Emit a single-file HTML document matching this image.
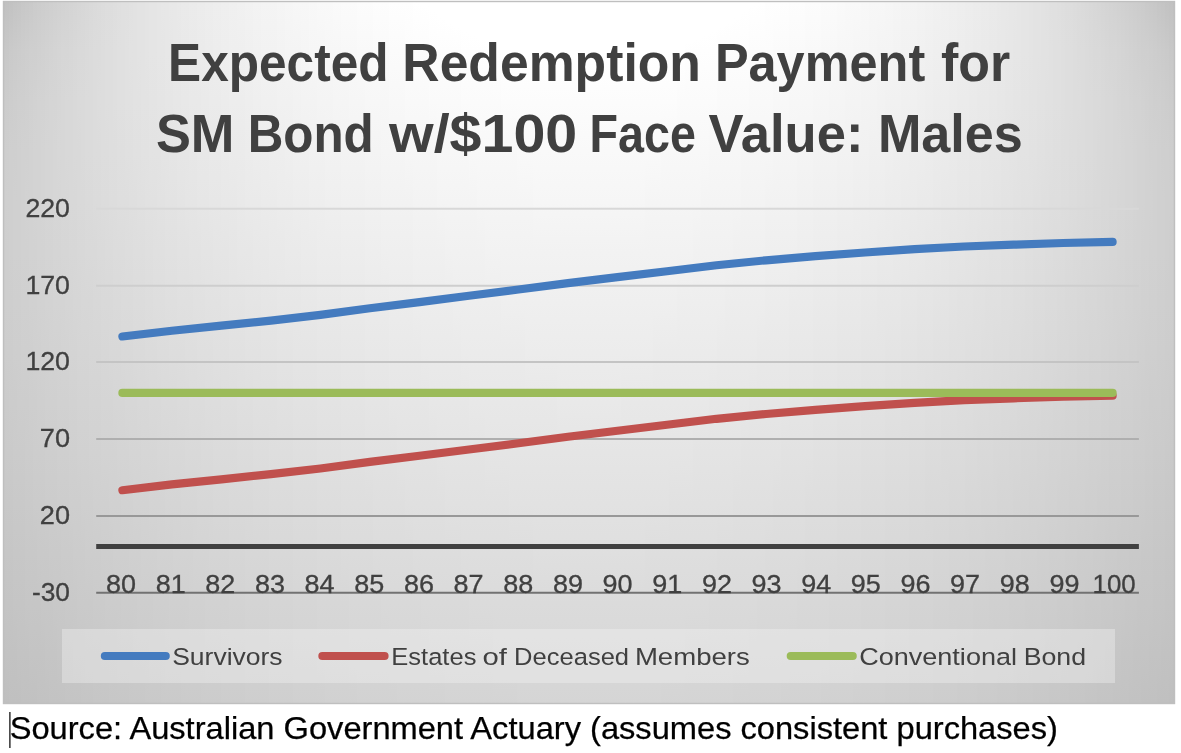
<!DOCTYPE html>
<html><head><meta charset="utf-8"><title>Expected Redemption Payment</title>
<style>
html,body{margin:0;padding:0;background:#fff;}
body{width:1181px;height:753px;overflow:hidden;font-family:"Liberation Sans",sans-serif;}
svg{display:block;will-change:transform;}
text{font-family:"Liberation Sans",sans-serif;}
</style></head><body>
<svg width="1181" height="753" viewBox="0 0 1181 753">
<rect x="0" y="0" width="1181" height="753" fill="#ffffff"/>
<defs>
<linearGradient id="g0" gradientUnits="userSpaceOnUse" x1="0" y1="1.0" x2="0" y2="704.0"><stop offset="0.0000" stop-color="#ffffff"/><stop offset="0.0714" stop-color="#ffffff"/><stop offset="0.0860" stop-color="#ffffff"/><stop offset="0.1429" stop-color="#fcfcfc"/><stop offset="0.2143" stop-color="#f9f9f9"/><stop offset="0.2857" stop-color="#f6f6f6"/><stop offset="0.3571" stop-color="#f2f2f2"/><stop offset="0.4286" stop-color="#efefef"/><stop offset="0.5000" stop-color="#ececec"/><stop offset="0.5714" stop-color="#e9e9e9"/><stop offset="0.6429" stop-color="#e5e5e5"/><stop offset="0.7143" stop-color="#e2e2e2"/><stop offset="0.7857" stop-color="#dfdfdf"/><stop offset="0.8571" stop-color="#dbdbdb"/><stop offset="0.9286" stop-color="#d8d8d8"/><stop offset="1.0000" stop-color="#d5d5d5"/></linearGradient>
<linearGradient id="g1" gradientUnits="userSpaceOnUse" x1="0" y1="1.0" x2="0" y2="704.0"><stop offset="0.0000" stop-color="#ffffff"/><stop offset="0.0714" stop-color="#ffffff"/><stop offset="0.0857" stop-color="#ffffff"/><stop offset="0.1429" stop-color="#fcfcfc"/><stop offset="0.2143" stop-color="#f9f9f9"/><stop offset="0.2857" stop-color="#f6f6f6"/><stop offset="0.3571" stop-color="#f2f2f2"/><stop offset="0.4286" stop-color="#efefef"/><stop offset="0.5000" stop-color="#ececec"/><stop offset="0.5714" stop-color="#e9e9e9"/><stop offset="0.6429" stop-color="#e5e5e5"/><stop offset="0.7143" stop-color="#e2e2e2"/><stop offset="0.7857" stop-color="#dfdfdf"/><stop offset="0.8571" stop-color="#dbdbdb"/><stop offset="0.9286" stop-color="#d8d8d8"/><stop offset="1.0000" stop-color="#d5d5d5"/></linearGradient>
<linearGradient id="g2" gradientUnits="userSpaceOnUse" x1="0" y1="1.0" x2="0" y2="704.0"><stop offset="0.0000" stop-color="#ffffff"/><stop offset="0.0714" stop-color="#ffffff"/><stop offset="0.0850" stop-color="#ffffff"/><stop offset="0.1429" stop-color="#fcfcfc"/><stop offset="0.2143" stop-color="#f9f9f9"/><stop offset="0.2857" stop-color="#f6f6f6"/><stop offset="0.3571" stop-color="#f2f2f2"/><stop offset="0.4286" stop-color="#efefef"/><stop offset="0.5000" stop-color="#ececec"/><stop offset="0.5714" stop-color="#e9e9e9"/><stop offset="0.6429" stop-color="#e5e5e5"/><stop offset="0.7143" stop-color="#e2e2e2"/><stop offset="0.7857" stop-color="#dfdfdf"/><stop offset="0.8571" stop-color="#dbdbdb"/><stop offset="0.9286" stop-color="#d8d8d8"/><stop offset="1.0000" stop-color="#d5d5d5"/></linearGradient>
<linearGradient id="g3" gradientUnits="userSpaceOnUse" x1="0" y1="1.0" x2="0" y2="704.0"><stop offset="0.0000" stop-color="#ffffff"/><stop offset="0.0714" stop-color="#ffffff"/><stop offset="0.0840" stop-color="#ffffff"/><stop offset="0.1429" stop-color="#fcfcfc"/><stop offset="0.2143" stop-color="#f9f9f9"/><stop offset="0.2857" stop-color="#f6f6f6"/><stop offset="0.3571" stop-color="#f2f2f2"/><stop offset="0.4286" stop-color="#efefef"/><stop offset="0.5000" stop-color="#ececec"/><stop offset="0.5714" stop-color="#e9e9e9"/><stop offset="0.6429" stop-color="#e5e5e5"/><stop offset="0.7143" stop-color="#e2e2e2"/><stop offset="0.7857" stop-color="#dfdfdf"/><stop offset="0.8571" stop-color="#dbdbdb"/><stop offset="0.9286" stop-color="#d8d8d8"/><stop offset="1.0000" stop-color="#d5d5d5"/></linearGradient>
<linearGradient id="g4" gradientUnits="userSpaceOnUse" x1="0" y1="1.0" x2="0" y2="704.0"><stop offset="0.0000" stop-color="#ffffff"/><stop offset="0.0714" stop-color="#ffffff"/><stop offset="0.0826" stop-color="#ffffff"/><stop offset="0.1429" stop-color="#fcfcfc"/><stop offset="0.2143" stop-color="#f9f9f9"/><stop offset="0.2857" stop-color="#f6f6f6"/><stop offset="0.3571" stop-color="#f2f2f2"/><stop offset="0.4286" stop-color="#efefef"/><stop offset="0.5000" stop-color="#ececec"/><stop offset="0.5714" stop-color="#e8e8e8"/><stop offset="0.6429" stop-color="#e5e5e5"/><stop offset="0.7143" stop-color="#e2e2e2"/><stop offset="0.7857" stop-color="#dfdfdf"/><stop offset="0.8571" stop-color="#dbdbdb"/><stop offset="0.9286" stop-color="#d8d8d8"/><stop offset="1.0000" stop-color="#d5d5d5"/></linearGradient>
<linearGradient id="g5" gradientUnits="userSpaceOnUse" x1="0" y1="1.0" x2="0" y2="704.0"><stop offset="0.0000" stop-color="#ffffff"/><stop offset="0.0714" stop-color="#ffffff"/><stop offset="0.0809" stop-color="#ffffff"/><stop offset="0.1429" stop-color="#fcfcfc"/><stop offset="0.2143" stop-color="#f9f9f9"/><stop offset="0.2857" stop-color="#f6f6f6"/><stop offset="0.3571" stop-color="#f2f2f2"/><stop offset="0.4286" stop-color="#efefef"/><stop offset="0.5000" stop-color="#ececec"/><stop offset="0.5714" stop-color="#e8e8e8"/><stop offset="0.6429" stop-color="#e5e5e5"/><stop offset="0.7143" stop-color="#e2e2e2"/><stop offset="0.7857" stop-color="#dfdfdf"/><stop offset="0.8571" stop-color="#dbdbdb"/><stop offset="0.9286" stop-color="#d8d8d8"/><stop offset="1.0000" stop-color="#d5d5d5"/></linearGradient>
<linearGradient id="g6" gradientUnits="userSpaceOnUse" x1="0" y1="1.0" x2="0" y2="704.0"><stop offset="0.0000" stop-color="#ffffff"/><stop offset="0.0714" stop-color="#ffffff"/><stop offset="0.0788" stop-color="#ffffff"/><stop offset="0.1429" stop-color="#fcfcfc"/><stop offset="0.2143" stop-color="#f9f9f9"/><stop offset="0.2857" stop-color="#f6f6f6"/><stop offset="0.3571" stop-color="#f2f2f2"/><stop offset="0.4286" stop-color="#efefef"/><stop offset="0.5000" stop-color="#ececec"/><stop offset="0.5714" stop-color="#e8e8e8"/><stop offset="0.6429" stop-color="#e5e5e5"/><stop offset="0.7143" stop-color="#e2e2e2"/><stop offset="0.7857" stop-color="#dfdfdf"/><stop offset="0.8571" stop-color="#dbdbdb"/><stop offset="0.9286" stop-color="#d8d8d8"/><stop offset="1.0000" stop-color="#d5d5d5"/></linearGradient>
<linearGradient id="g7" gradientUnits="userSpaceOnUse" x1="0" y1="1.0" x2="0" y2="704.0"><stop offset="0.0000" stop-color="#ffffff"/><stop offset="0.0714" stop-color="#ffffff"/><stop offset="0.0764" stop-color="#ffffff"/><stop offset="0.1429" stop-color="#fcfcfc"/><stop offset="0.2143" stop-color="#f9f9f9"/><stop offset="0.2857" stop-color="#f5f5f5"/><stop offset="0.3571" stop-color="#f2f2f2"/><stop offset="0.4286" stop-color="#efefef"/><stop offset="0.5000" stop-color="#ececec"/><stop offset="0.5714" stop-color="#e8e8e8"/><stop offset="0.6429" stop-color="#e5e5e5"/><stop offset="0.7143" stop-color="#e2e2e2"/><stop offset="0.7857" stop-color="#dedede"/><stop offset="0.8571" stop-color="#dbdbdb"/><stop offset="0.9286" stop-color="#d8d8d8"/><stop offset="1.0000" stop-color="#d5d5d5"/></linearGradient>
<linearGradient id="g8" gradientUnits="userSpaceOnUse" x1="0" y1="1.0" x2="0" y2="704.0"><stop offset="0.0000" stop-color="#ffffff"/><stop offset="0.0714" stop-color="#ffffff"/><stop offset="0.0735" stop-color="#ffffff"/><stop offset="0.1429" stop-color="#fcfcfc"/><stop offset="0.2143" stop-color="#f9f9f9"/><stop offset="0.2857" stop-color="#f5f5f5"/><stop offset="0.3571" stop-color="#f2f2f2"/><stop offset="0.4286" stop-color="#efefef"/><stop offset="0.5000" stop-color="#ebebeb"/><stop offset="0.5714" stop-color="#e8e8e8"/><stop offset="0.6429" stop-color="#e5e5e5"/><stop offset="0.7143" stop-color="#e2e2e2"/><stop offset="0.7857" stop-color="#dedede"/><stop offset="0.8571" stop-color="#dbdbdb"/><stop offset="0.9286" stop-color="#d8d8d8"/><stop offset="1.0000" stop-color="#d5d5d5"/></linearGradient>
<linearGradient id="g9" gradientUnits="userSpaceOnUse" x1="0" y1="1.0" x2="0" y2="704.0"><stop offset="0.0000" stop-color="#ffffff"/><stop offset="0.0703" stop-color="#ffffff"/><stop offset="0.0714" stop-color="#ffffff"/><stop offset="0.1429" stop-color="#fcfcfc"/><stop offset="0.2143" stop-color="#f8f8f8"/><stop offset="0.2857" stop-color="#f5f5f5"/><stop offset="0.3571" stop-color="#f2f2f2"/><stop offset="0.4286" stop-color="#efefef"/><stop offset="0.5000" stop-color="#ebebeb"/><stop offset="0.5714" stop-color="#e8e8e8"/><stop offset="0.6429" stop-color="#e5e5e5"/><stop offset="0.7143" stop-color="#e2e2e2"/><stop offset="0.7857" stop-color="#dedede"/><stop offset="0.8571" stop-color="#dbdbdb"/><stop offset="0.9286" stop-color="#d8d8d8"/><stop offset="1.0000" stop-color="#d4d4d4"/></linearGradient>
<linearGradient id="g10" gradientUnits="userSpaceOnUse" x1="0" y1="1.0" x2="0" y2="704.0"><stop offset="0.0000" stop-color="#ffffff"/><stop offset="0.0668" stop-color="#ffffff"/><stop offset="0.0714" stop-color="#ffffff"/><stop offset="0.1429" stop-color="#fcfcfc"/><stop offset="0.2143" stop-color="#f8f8f8"/><stop offset="0.2857" stop-color="#f5f5f5"/><stop offset="0.3571" stop-color="#f2f2f2"/><stop offset="0.4286" stop-color="#efefef"/><stop offset="0.5000" stop-color="#ebebeb"/><stop offset="0.5714" stop-color="#e8e8e8"/><stop offset="0.6429" stop-color="#e5e5e5"/><stop offset="0.7143" stop-color="#e1e1e1"/><stop offset="0.7857" stop-color="#dedede"/><stop offset="0.8571" stop-color="#dbdbdb"/><stop offset="0.9286" stop-color="#d8d8d8"/><stop offset="1.0000" stop-color="#d4d4d4"/></linearGradient>
<linearGradient id="g11" gradientUnits="userSpaceOnUse" x1="0" y1="1.0" x2="0" y2="704.0"><stop offset="0.0000" stop-color="#ffffff"/><stop offset="0.0628" stop-color="#ffffff"/><stop offset="0.0714" stop-color="#ffffff"/><stop offset="0.1429" stop-color="#fbfbfb"/><stop offset="0.2143" stop-color="#f8f8f8"/><stop offset="0.2857" stop-color="#f5f5f5"/><stop offset="0.3571" stop-color="#f2f2f2"/><stop offset="0.4286" stop-color="#eeeeee"/><stop offset="0.5000" stop-color="#ebebeb"/><stop offset="0.5714" stop-color="#e8e8e8"/><stop offset="0.6429" stop-color="#e5e5e5"/><stop offset="0.7143" stop-color="#e1e1e1"/><stop offset="0.7857" stop-color="#dedede"/><stop offset="0.8571" stop-color="#dbdbdb"/><stop offset="0.9286" stop-color="#d8d8d8"/><stop offset="1.0000" stop-color="#d4d4d4"/></linearGradient>
<linearGradient id="g12" gradientUnits="userSpaceOnUse" x1="0" y1="1.0" x2="0" y2="704.0"><stop offset="0.0000" stop-color="#ffffff"/><stop offset="0.0584" stop-color="#ffffff"/><stop offset="0.0714" stop-color="#fefefe"/><stop offset="0.1429" stop-color="#fbfbfb"/><stop offset="0.2143" stop-color="#f8f8f8"/><stop offset="0.2857" stop-color="#f5f5f5"/><stop offset="0.3571" stop-color="#f2f2f2"/><stop offset="0.4286" stop-color="#eeeeee"/><stop offset="0.5000" stop-color="#ebebeb"/><stop offset="0.5714" stop-color="#e8e8e8"/><stop offset="0.6429" stop-color="#e5e5e5"/><stop offset="0.7143" stop-color="#e1e1e1"/><stop offset="0.7857" stop-color="#dedede"/><stop offset="0.8571" stop-color="#dbdbdb"/><stop offset="0.9286" stop-color="#d7d7d7"/><stop offset="1.0000" stop-color="#d4d4d4"/></linearGradient>
<linearGradient id="g13" gradientUnits="userSpaceOnUse" x1="0" y1="1.0" x2="0" y2="704.0"><stop offset="0.0000" stop-color="#ffffff"/><stop offset="0.0536" stop-color="#ffffff"/><stop offset="0.0714" stop-color="#fefefe"/><stop offset="0.1429" stop-color="#fbfbfb"/><stop offset="0.2143" stop-color="#f8f8f8"/><stop offset="0.2857" stop-color="#f5f5f5"/><stop offset="0.3571" stop-color="#f1f1f1"/><stop offset="0.4286" stop-color="#eeeeee"/><stop offset="0.5000" stop-color="#ebebeb"/><stop offset="0.5714" stop-color="#e8e8e8"/><stop offset="0.6429" stop-color="#e4e4e4"/><stop offset="0.7143" stop-color="#e1e1e1"/><stop offset="0.7857" stop-color="#dedede"/><stop offset="0.8571" stop-color="#dbdbdb"/><stop offset="0.9286" stop-color="#d7d7d7"/><stop offset="1.0000" stop-color="#d4d4d4"/></linearGradient>
<linearGradient id="g14" gradientUnits="userSpaceOnUse" x1="0" y1="1.0" x2="0" y2="704.0"><stop offset="0.0000" stop-color="#ffffff"/><stop offset="0.0483" stop-color="#ffffff"/><stop offset="0.0714" stop-color="#fefefe"/><stop offset="0.1429" stop-color="#fbfbfb"/><stop offset="0.2143" stop-color="#f8f8f8"/><stop offset="0.2857" stop-color="#f4f4f4"/><stop offset="0.3571" stop-color="#f1f1f1"/><stop offset="0.4286" stop-color="#eeeeee"/><stop offset="0.5000" stop-color="#ebebeb"/><stop offset="0.5714" stop-color="#e8e8e8"/><stop offset="0.6429" stop-color="#e4e4e4"/><stop offset="0.7143" stop-color="#e1e1e1"/><stop offset="0.7857" stop-color="#dedede"/><stop offset="0.8571" stop-color="#dbdbdb"/><stop offset="0.9286" stop-color="#d7d7d7"/><stop offset="1.0000" stop-color="#d4d4d4"/></linearGradient>
<linearGradient id="g15" gradientUnits="userSpaceOnUse" x1="0" y1="1.0" x2="0" y2="704.0"><stop offset="0.0000" stop-color="#ffffff"/><stop offset="0.0426" stop-color="#ffffff"/><stop offset="0.0714" stop-color="#fefefe"/><stop offset="0.1429" stop-color="#fbfbfb"/><stop offset="0.2143" stop-color="#f7f7f7"/><stop offset="0.2857" stop-color="#f4f4f4"/><stop offset="0.3571" stop-color="#f1f1f1"/><stop offset="0.4286" stop-color="#eeeeee"/><stop offset="0.5000" stop-color="#ebebeb"/><stop offset="0.5714" stop-color="#e7e7e7"/><stop offset="0.6429" stop-color="#e4e4e4"/><stop offset="0.7143" stop-color="#e1e1e1"/><stop offset="0.7857" stop-color="#dedede"/><stop offset="0.8571" stop-color="#dadada"/><stop offset="0.9286" stop-color="#d7d7d7"/><stop offset="1.0000" stop-color="#d4d4d4"/></linearGradient>
<linearGradient id="g16" gradientUnits="userSpaceOnUse" x1="0" y1="1.0" x2="0" y2="704.0"><stop offset="0.0000" stop-color="#ffffff"/><stop offset="0.0363" stop-color="#ffffff"/><stop offset="0.0714" stop-color="#fdfdfd"/><stop offset="0.1429" stop-color="#fafafa"/><stop offset="0.2143" stop-color="#f7f7f7"/><stop offset="0.2857" stop-color="#f4f4f4"/><stop offset="0.3571" stop-color="#f1f1f1"/><stop offset="0.4286" stop-color="#eeeeee"/><stop offset="0.5000" stop-color="#eaeaea"/><stop offset="0.5714" stop-color="#e7e7e7"/><stop offset="0.6429" stop-color="#e4e4e4"/><stop offset="0.7143" stop-color="#e1e1e1"/><stop offset="0.7857" stop-color="#dddddd"/><stop offset="0.8571" stop-color="#dadada"/><stop offset="0.9286" stop-color="#d7d7d7"/><stop offset="1.0000" stop-color="#d4d4d4"/></linearGradient>
<linearGradient id="g17" gradientUnits="userSpaceOnUse" x1="0" y1="1.0" x2="0" y2="704.0"><stop offset="0.0000" stop-color="#ffffff"/><stop offset="0.0296" stop-color="#ffffff"/><stop offset="0.0714" stop-color="#fdfdfd"/><stop offset="0.1429" stop-color="#fafafa"/><stop offset="0.2143" stop-color="#f7f7f7"/><stop offset="0.2857" stop-color="#f4f4f4"/><stop offset="0.3571" stop-color="#f1f1f1"/><stop offset="0.4286" stop-color="#ededed"/><stop offset="0.5000" stop-color="#eaeaea"/><stop offset="0.5714" stop-color="#e7e7e7"/><stop offset="0.6429" stop-color="#e4e4e4"/><stop offset="0.7143" stop-color="#e1e1e1"/><stop offset="0.7857" stop-color="#dddddd"/><stop offset="0.8571" stop-color="#dadada"/><stop offset="0.9286" stop-color="#d7d7d7"/><stop offset="1.0000" stop-color="#d4d4d4"/></linearGradient>
<linearGradient id="g18" gradientUnits="userSpaceOnUse" x1="0" y1="1.0" x2="0" y2="704.0"><stop offset="0.0000" stop-color="#ffffff"/><stop offset="0.0223" stop-color="#ffffff"/><stop offset="0.0714" stop-color="#fdfdfd"/><stop offset="0.1429" stop-color="#fafafa"/><stop offset="0.2143" stop-color="#f7f7f7"/><stop offset="0.2857" stop-color="#f4f4f4"/><stop offset="0.3571" stop-color="#f0f0f0"/><stop offset="0.4286" stop-color="#ededed"/><stop offset="0.5000" stop-color="#eaeaea"/><stop offset="0.5714" stop-color="#e7e7e7"/><stop offset="0.6429" stop-color="#e4e4e4"/><stop offset="0.7143" stop-color="#e0e0e0"/><stop offset="0.7857" stop-color="#dddddd"/><stop offset="0.8571" stop-color="#dadada"/><stop offset="0.9286" stop-color="#d7d7d7"/><stop offset="1.0000" stop-color="#d3d3d3"/></linearGradient>
<linearGradient id="g19" gradientUnits="userSpaceOnUse" x1="0" y1="1.0" x2="0" y2="704.0"><stop offset="0.0000" stop-color="#ffffff"/><stop offset="0.0144" stop-color="#ffffff"/><stop offset="0.0714" stop-color="#fdfdfd"/><stop offset="0.1429" stop-color="#fafafa"/><stop offset="0.2143" stop-color="#f6f6f6"/><stop offset="0.2857" stop-color="#f3f3f3"/><stop offset="0.3571" stop-color="#f0f0f0"/><stop offset="0.4286" stop-color="#ededed"/><stop offset="0.5000" stop-color="#eaeaea"/><stop offset="0.5714" stop-color="#e7e7e7"/><stop offset="0.6429" stop-color="#e3e3e3"/><stop offset="0.7143" stop-color="#e0e0e0"/><stop offset="0.7857" stop-color="#dddddd"/><stop offset="0.8571" stop-color="#dadada"/><stop offset="0.9286" stop-color="#d7d7d7"/><stop offset="1.0000" stop-color="#d3d3d3"/></linearGradient>
<linearGradient id="g20" gradientUnits="userSpaceOnUse" x1="0" y1="1.0" x2="0" y2="704.0"><stop offset="0.0000" stop-color="#ffffff"/><stop offset="0.0058" stop-color="#ffffff"/><stop offset="0.0714" stop-color="#fcfcfc"/><stop offset="0.1429" stop-color="#f9f9f9"/><stop offset="0.2143" stop-color="#f6f6f6"/><stop offset="0.2857" stop-color="#f3f3f3"/><stop offset="0.3571" stop-color="#f0f0f0"/><stop offset="0.4286" stop-color="#ededed"/><stop offset="0.5000" stop-color="#eaeaea"/><stop offset="0.5714" stop-color="#e6e6e6"/><stop offset="0.6429" stop-color="#e3e3e3"/><stop offset="0.7143" stop-color="#e0e0e0"/><stop offset="0.7857" stop-color="#dddddd"/><stop offset="0.8571" stop-color="#dadada"/><stop offset="0.9286" stop-color="#d6d6d6"/><stop offset="1.0000" stop-color="#d3d3d3"/></linearGradient>
<linearGradient id="g21" gradientUnits="userSpaceOnUse" x1="0" y1="1.0" x2="0" y2="704.0"><stop offset="0.0000" stop-color="#ffffff"/><stop offset="0.0714" stop-color="#fcfcfc"/><stop offset="0.1429" stop-color="#f9f9f9"/><stop offset="0.2143" stop-color="#f6f6f6"/><stop offset="0.2857" stop-color="#f3f3f3"/><stop offset="0.3571" stop-color="#f0f0f0"/><stop offset="0.4286" stop-color="#ededed"/><stop offset="0.5000" stop-color="#e9e9e9"/><stop offset="0.5714" stop-color="#e6e6e6"/><stop offset="0.6429" stop-color="#e3e3e3"/><stop offset="0.7143" stop-color="#e0e0e0"/><stop offset="0.7857" stop-color="#dddddd"/><stop offset="0.8571" stop-color="#d9d9d9"/><stop offset="0.9286" stop-color="#d6d6d6"/><stop offset="1.0000" stop-color="#d3d3d3"/></linearGradient>
<linearGradient id="g22" gradientUnits="userSpaceOnUse" x1="0" y1="1.0" x2="0" y2="704.0"><stop offset="0.0000" stop-color="#fefefe"/><stop offset="0.0714" stop-color="#fcfcfc"/><stop offset="0.1429" stop-color="#f9f9f9"/><stop offset="0.2143" stop-color="#f6f6f6"/><stop offset="0.2857" stop-color="#f2f2f2"/><stop offset="0.3571" stop-color="#efefef"/><stop offset="0.4286" stop-color="#ececec"/><stop offset="0.5000" stop-color="#e9e9e9"/><stop offset="0.5714" stop-color="#e6e6e6"/><stop offset="0.6429" stop-color="#e3e3e3"/><stop offset="0.7143" stop-color="#e0e0e0"/><stop offset="0.7857" stop-color="#dcdcdc"/><stop offset="0.8571" stop-color="#d9d9d9"/><stop offset="0.9286" stop-color="#d6d6d6"/><stop offset="1.0000" stop-color="#d3d3d3"/></linearGradient>
<linearGradient id="g23" gradientUnits="userSpaceOnUse" x1="0" y1="1.0" x2="0" y2="704.0"><stop offset="0.0000" stop-color="#fefefe"/><stop offset="0.0714" stop-color="#fbfbfb"/><stop offset="0.1429" stop-color="#f8f8f8"/><stop offset="0.2143" stop-color="#f5f5f5"/><stop offset="0.2857" stop-color="#f2f2f2"/><stop offset="0.3571" stop-color="#efefef"/><stop offset="0.4286" stop-color="#ececec"/><stop offset="0.5000" stop-color="#e9e9e9"/><stop offset="0.5714" stop-color="#e6e6e6"/><stop offset="0.6429" stop-color="#e3e3e3"/><stop offset="0.7143" stop-color="#dfdfdf"/><stop offset="0.7857" stop-color="#dcdcdc"/><stop offset="0.8571" stop-color="#d9d9d9"/><stop offset="0.9286" stop-color="#d6d6d6"/><stop offset="1.0000" stop-color="#d3d3d3"/></linearGradient>
<linearGradient id="g24" gradientUnits="userSpaceOnUse" x1="0" y1="1.0" x2="0" y2="704.0"><stop offset="0.0000" stop-color="#fefefe"/><stop offset="0.0714" stop-color="#fbfbfb"/><stop offset="0.1429" stop-color="#f8f8f8"/><stop offset="0.2143" stop-color="#f5f5f5"/><stop offset="0.2857" stop-color="#f2f2f2"/><stop offset="0.3571" stop-color="#efefef"/><stop offset="0.4286" stop-color="#ececec"/><stop offset="0.5000" stop-color="#e9e9e9"/><stop offset="0.5714" stop-color="#e6e6e6"/><stop offset="0.6429" stop-color="#e2e2e2"/><stop offset="0.7143" stop-color="#dfdfdf"/><stop offset="0.7857" stop-color="#dcdcdc"/><stop offset="0.8571" stop-color="#d9d9d9"/><stop offset="0.9286" stop-color="#d6d6d6"/><stop offset="1.0000" stop-color="#d2d2d2"/></linearGradient>
<linearGradient id="g25" gradientUnits="userSpaceOnUse" x1="0" y1="1.0" x2="0" y2="704.0"><stop offset="0.0000" stop-color="#fdfdfd"/><stop offset="0.0714" stop-color="#fafafa"/><stop offset="0.1429" stop-color="#f7f7f7"/><stop offset="0.2143" stop-color="#f5f5f5"/><stop offset="0.2857" stop-color="#f2f2f2"/><stop offset="0.3571" stop-color="#efefef"/><stop offset="0.4286" stop-color="#ebebeb"/><stop offset="0.5000" stop-color="#e8e8e8"/><stop offset="0.5714" stop-color="#e5e5e5"/><stop offset="0.6429" stop-color="#e2e2e2"/><stop offset="0.7143" stop-color="#dfdfdf"/><stop offset="0.7857" stop-color="#dcdcdc"/><stop offset="0.8571" stop-color="#d9d9d9"/><stop offset="0.9286" stop-color="#d5d5d5"/><stop offset="1.0000" stop-color="#d2d2d2"/></linearGradient>
<linearGradient id="g26" gradientUnits="userSpaceOnUse" x1="0" y1="1.0" x2="0" y2="704.0"><stop offset="0.0000" stop-color="#fdfdfd"/><stop offset="0.0714" stop-color="#fafafa"/><stop offset="0.1429" stop-color="#f7f7f7"/><stop offset="0.2143" stop-color="#f4f4f4"/><stop offset="0.2857" stop-color="#f1f1f1"/><stop offset="0.3571" stop-color="#eeeeee"/><stop offset="0.4286" stop-color="#ebebeb"/><stop offset="0.5000" stop-color="#e8e8e8"/><stop offset="0.5714" stop-color="#e5e5e5"/><stop offset="0.6429" stop-color="#e2e2e2"/><stop offset="0.7143" stop-color="#dfdfdf"/><stop offset="0.7857" stop-color="#dcdcdc"/><stop offset="0.8571" stop-color="#d8d8d8"/><stop offset="0.9286" stop-color="#d5d5d5"/><stop offset="1.0000" stop-color="#d2d2d2"/></linearGradient>
<linearGradient id="g27" gradientUnits="userSpaceOnUse" x1="0" y1="1.0" x2="0" y2="704.0"><stop offset="0.0000" stop-color="#fcfcfc"/><stop offset="0.0714" stop-color="#f9f9f9"/><stop offset="0.1429" stop-color="#f7f7f7"/><stop offset="0.2143" stop-color="#f4f4f4"/><stop offset="0.2857" stop-color="#f1f1f1"/><stop offset="0.3571" stop-color="#eeeeee"/><stop offset="0.4286" stop-color="#ebebeb"/><stop offset="0.5000" stop-color="#e8e8e8"/><stop offset="0.5714" stop-color="#e5e5e5"/><stop offset="0.6429" stop-color="#e2e2e2"/><stop offset="0.7143" stop-color="#dedede"/><stop offset="0.7857" stop-color="#dbdbdb"/><stop offset="0.8571" stop-color="#d8d8d8"/><stop offset="0.9286" stop-color="#d5d5d5"/><stop offset="1.0000" stop-color="#d2d2d2"/></linearGradient>
<linearGradient id="g28" gradientUnits="userSpaceOnUse" x1="0" y1="1.0" x2="0" y2="704.0"><stop offset="0.0000" stop-color="#fcfcfc"/><stop offset="0.0714" stop-color="#f9f9f9"/><stop offset="0.1429" stop-color="#f6f6f6"/><stop offset="0.2143" stop-color="#f3f3f3"/><stop offset="0.2857" stop-color="#f0f0f0"/><stop offset="0.3571" stop-color="#ededed"/><stop offset="0.4286" stop-color="#eaeaea"/><stop offset="0.5000" stop-color="#e7e7e7"/><stop offset="0.5714" stop-color="#e4e4e4"/><stop offset="0.6429" stop-color="#e1e1e1"/><stop offset="0.7143" stop-color="#dedede"/><stop offset="0.7857" stop-color="#dbdbdb"/><stop offset="0.8571" stop-color="#d8d8d8"/><stop offset="0.9286" stop-color="#d5d5d5"/><stop offset="1.0000" stop-color="#d2d2d2"/></linearGradient>
<linearGradient id="g29" gradientUnits="userSpaceOnUse" x1="0" y1="1.0" x2="0" y2="704.0"><stop offset="0.0000" stop-color="#fbfbfb"/><stop offset="0.0714" stop-color="#f8f8f8"/><stop offset="0.1429" stop-color="#f6f6f6"/><stop offset="0.2143" stop-color="#f3f3f3"/><stop offset="0.2857" stop-color="#f0f0f0"/><stop offset="0.3571" stop-color="#ededed"/><stop offset="0.4286" stop-color="#eaeaea"/><stop offset="0.5000" stop-color="#e7e7e7"/><stop offset="0.5714" stop-color="#e4e4e4"/><stop offset="0.6429" stop-color="#e1e1e1"/><stop offset="0.7143" stop-color="#dedede"/><stop offset="0.7857" stop-color="#dbdbdb"/><stop offset="0.8571" stop-color="#d8d8d8"/><stop offset="0.9286" stop-color="#d5d5d5"/><stop offset="1.0000" stop-color="#d1d1d1"/></linearGradient>
<linearGradient id="g30" gradientUnits="userSpaceOnUse" x1="0" y1="1.0" x2="0" y2="704.0"><stop offset="0.0000" stop-color="#fbfbfb"/><stop offset="0.0714" stop-color="#f8f8f8"/><stop offset="0.1429" stop-color="#f5f5f5"/><stop offset="0.2143" stop-color="#f3f3f3"/><stop offset="0.2857" stop-color="#f0f0f0"/><stop offset="0.3571" stop-color="#ededed"/><stop offset="0.4286" stop-color="#eaeaea"/><stop offset="0.5000" stop-color="#e7e7e7"/><stop offset="0.5714" stop-color="#e4e4e4"/><stop offset="0.6429" stop-color="#e1e1e1"/><stop offset="0.7143" stop-color="#dedede"/><stop offset="0.7857" stop-color="#dbdbdb"/><stop offset="0.8571" stop-color="#d7d7d7"/><stop offset="0.9286" stop-color="#d4d4d4"/><stop offset="1.0000" stop-color="#d1d1d1"/></linearGradient>
<linearGradient id="g31" gradientUnits="userSpaceOnUse" x1="0" y1="1.0" x2="0" y2="704.0"><stop offset="0.0000" stop-color="#fafafa"/><stop offset="0.0714" stop-color="#f7f7f7"/><stop offset="0.1429" stop-color="#f5f5f5"/><stop offset="0.2143" stop-color="#f2f2f2"/><stop offset="0.2857" stop-color="#efefef"/><stop offset="0.3571" stop-color="#ececec"/><stop offset="0.4286" stop-color="#e9e9e9"/><stop offset="0.5000" stop-color="#e6e6e6"/><stop offset="0.5714" stop-color="#e3e3e3"/><stop offset="0.6429" stop-color="#e0e0e0"/><stop offset="0.7143" stop-color="#dddddd"/><stop offset="0.7857" stop-color="#dadada"/><stop offset="0.8571" stop-color="#d7d7d7"/><stop offset="0.9286" stop-color="#d4d4d4"/><stop offset="1.0000" stop-color="#d1d1d1"/></linearGradient>
<linearGradient id="g32" gradientUnits="userSpaceOnUse" x1="0" y1="1.0" x2="0" y2="704.0"><stop offset="0.0000" stop-color="#f9f9f9"/><stop offset="0.0714" stop-color="#f7f7f7"/><stop offset="0.1429" stop-color="#f4f4f4"/><stop offset="0.2143" stop-color="#f2f2f2"/><stop offset="0.2857" stop-color="#efefef"/><stop offset="0.3571" stop-color="#ececec"/><stop offset="0.4286" stop-color="#e9e9e9"/><stop offset="0.5000" stop-color="#e6e6e6"/><stop offset="0.5714" stop-color="#e3e3e3"/><stop offset="0.6429" stop-color="#e0e0e0"/><stop offset="0.7143" stop-color="#dddddd"/><stop offset="0.7857" stop-color="#dadada"/><stop offset="0.8571" stop-color="#d7d7d7"/><stop offset="0.9286" stop-color="#d4d4d4"/><stop offset="1.0000" stop-color="#d1d1d1"/></linearGradient>
<linearGradient id="g33" gradientUnits="userSpaceOnUse" x1="0" y1="1.0" x2="0" y2="704.0"><stop offset="0.0000" stop-color="#f9f9f9"/><stop offset="0.0714" stop-color="#f6f6f6"/><stop offset="0.1429" stop-color="#f4f4f4"/><stop offset="0.2143" stop-color="#f1f1f1"/><stop offset="0.2857" stop-color="#eeeeee"/><stop offset="0.3571" stop-color="#ececec"/><stop offset="0.4286" stop-color="#e9e9e9"/><stop offset="0.5000" stop-color="#e6e6e6"/><stop offset="0.5714" stop-color="#e3e3e3"/><stop offset="0.6429" stop-color="#e0e0e0"/><stop offset="0.7143" stop-color="#dddddd"/><stop offset="0.7857" stop-color="#dadada"/><stop offset="0.8571" stop-color="#d7d7d7"/><stop offset="0.9286" stop-color="#d4d4d4"/><stop offset="1.0000" stop-color="#d0d0d0"/></linearGradient>
<linearGradient id="g34" gradientUnits="userSpaceOnUse" x1="0" y1="1.0" x2="0" y2="704.0"><stop offset="0.0000" stop-color="#f8f8f8"/><stop offset="0.0714" stop-color="#f6f6f6"/><stop offset="0.1429" stop-color="#f3f3f3"/><stop offset="0.2143" stop-color="#f1f1f1"/><stop offset="0.2857" stop-color="#eeeeee"/><stop offset="0.3571" stop-color="#ebebeb"/><stop offset="0.4286" stop-color="#e8e8e8"/><stop offset="0.5000" stop-color="#e5e5e5"/><stop offset="0.5714" stop-color="#e2e2e2"/><stop offset="0.6429" stop-color="#dfdfdf"/><stop offset="0.7143" stop-color="#dcdcdc"/><stop offset="0.7857" stop-color="#d9d9d9"/><stop offset="0.8571" stop-color="#d6d6d6"/><stop offset="0.9286" stop-color="#d3d3d3"/><stop offset="1.0000" stop-color="#d0d0d0"/></linearGradient>
<linearGradient id="g35" gradientUnits="userSpaceOnUse" x1="0" y1="1.0" x2="0" y2="704.0"><stop offset="0.0000" stop-color="#f7f7f7"/><stop offset="0.0714" stop-color="#f5f5f5"/><stop offset="0.1429" stop-color="#f3f3f3"/><stop offset="0.2143" stop-color="#f0f0f0"/><stop offset="0.2857" stop-color="#ededed"/><stop offset="0.3571" stop-color="#ebebeb"/><stop offset="0.4286" stop-color="#e8e8e8"/><stop offset="0.5000" stop-color="#e5e5e5"/><stop offset="0.5714" stop-color="#e2e2e2"/><stop offset="0.6429" stop-color="#dfdfdf"/><stop offset="0.7143" stop-color="#dcdcdc"/><stop offset="0.7857" stop-color="#d9d9d9"/><stop offset="0.8571" stop-color="#d6d6d6"/><stop offset="0.9286" stop-color="#d3d3d3"/><stop offset="1.0000" stop-color="#d0d0d0"/></linearGradient>
<linearGradient id="g36" gradientUnits="userSpaceOnUse" x1="0" y1="1.0" x2="0" y2="704.0"><stop offset="0.0000" stop-color="#f7f7f7"/><stop offset="0.0714" stop-color="#f4f4f4"/><stop offset="0.1429" stop-color="#f2f2f2"/><stop offset="0.2143" stop-color="#f0f0f0"/><stop offset="0.2857" stop-color="#ededed"/><stop offset="0.3571" stop-color="#eaeaea"/><stop offset="0.4286" stop-color="#e7e7e7"/><stop offset="0.5000" stop-color="#e5e5e5"/><stop offset="0.5714" stop-color="#e2e2e2"/><stop offset="0.6429" stop-color="#dfdfdf"/><stop offset="0.7143" stop-color="#dcdcdc"/><stop offset="0.7857" stop-color="#d9d9d9"/><stop offset="0.8571" stop-color="#d6d6d6"/><stop offset="0.9286" stop-color="#d3d3d3"/><stop offset="1.0000" stop-color="#d0d0d0"/></linearGradient>
<linearGradient id="g37" gradientUnits="userSpaceOnUse" x1="0" y1="1.0" x2="0" y2="704.0"><stop offset="0.0000" stop-color="#f6f6f6"/><stop offset="0.0714" stop-color="#f4f4f4"/><stop offset="0.1429" stop-color="#f1f1f1"/><stop offset="0.2143" stop-color="#efefef"/><stop offset="0.2857" stop-color="#ececec"/><stop offset="0.3571" stop-color="#eaeaea"/><stop offset="0.4286" stop-color="#e7e7e7"/><stop offset="0.5000" stop-color="#e4e4e4"/><stop offset="0.5714" stop-color="#e1e1e1"/><stop offset="0.6429" stop-color="#dedede"/><stop offset="0.7143" stop-color="#dbdbdb"/><stop offset="0.7857" stop-color="#d8d8d8"/><stop offset="0.8571" stop-color="#d5d5d5"/><stop offset="0.9286" stop-color="#d2d2d2"/><stop offset="1.0000" stop-color="#cfcfcf"/></linearGradient>
<linearGradient id="g38" gradientUnits="userSpaceOnUse" x1="0" y1="1.0" x2="0" y2="704.0"><stop offset="0.0000" stop-color="#f5f5f5"/><stop offset="0.0714" stop-color="#f3f3f3"/><stop offset="0.1429" stop-color="#f1f1f1"/><stop offset="0.2143" stop-color="#eeeeee"/><stop offset="0.2857" stop-color="#ececec"/><stop offset="0.3571" stop-color="#e9e9e9"/><stop offset="0.4286" stop-color="#e7e7e7"/><stop offset="0.5000" stop-color="#e4e4e4"/><stop offset="0.5714" stop-color="#e1e1e1"/><stop offset="0.6429" stop-color="#dedede"/><stop offset="0.7143" stop-color="#dbdbdb"/><stop offset="0.7857" stop-color="#d8d8d8"/><stop offset="0.8571" stop-color="#d5d5d5"/><stop offset="0.9286" stop-color="#d2d2d2"/><stop offset="1.0000" stop-color="#cfcfcf"/></linearGradient>
<linearGradient id="g39" gradientUnits="userSpaceOnUse" x1="0" y1="1.0" x2="0" y2="704.0"><stop offset="0.0000" stop-color="#f4f4f4"/><stop offset="0.0714" stop-color="#f2f2f2"/><stop offset="0.1429" stop-color="#f0f0f0"/><stop offset="0.2143" stop-color="#eeeeee"/><stop offset="0.2857" stop-color="#ebebeb"/><stop offset="0.3571" stop-color="#e9e9e9"/><stop offset="0.4286" stop-color="#e6e6e6"/><stop offset="0.5000" stop-color="#e3e3e3"/><stop offset="0.5714" stop-color="#e0e0e0"/><stop offset="0.6429" stop-color="#dedede"/><stop offset="0.7143" stop-color="#dbdbdb"/><stop offset="0.7857" stop-color="#d8d8d8"/><stop offset="0.8571" stop-color="#d5d5d5"/><stop offset="0.9286" stop-color="#d2d2d2"/><stop offset="1.0000" stop-color="#cfcfcf"/></linearGradient>
<linearGradient id="g40" gradientUnits="userSpaceOnUse" x1="0" y1="1.0" x2="0" y2="704.0"><stop offset="0.0000" stop-color="#f4f4f4"/><stop offset="0.0714" stop-color="#f2f2f2"/><stop offset="0.1429" stop-color="#f0f0f0"/><stop offset="0.2143" stop-color="#ededed"/><stop offset="0.2857" stop-color="#ebebeb"/><stop offset="0.3571" stop-color="#e8e8e8"/><stop offset="0.4286" stop-color="#e6e6e6"/><stop offset="0.5000" stop-color="#e3e3e3"/><stop offset="0.5714" stop-color="#e0e0e0"/><stop offset="0.6429" stop-color="#dddddd"/><stop offset="0.7143" stop-color="#dadada"/><stop offset="0.7857" stop-color="#d7d7d7"/><stop offset="0.8571" stop-color="#d4d4d4"/><stop offset="0.9286" stop-color="#d1d1d1"/><stop offset="1.0000" stop-color="#cecece"/></linearGradient>
<linearGradient id="g41" gradientUnits="userSpaceOnUse" x1="0" y1="1.0" x2="0" y2="704.0"><stop offset="0.0000" stop-color="#f3f3f3"/><stop offset="0.0714" stop-color="#f1f1f1"/><stop offset="0.1429" stop-color="#efefef"/><stop offset="0.2143" stop-color="#ededed"/><stop offset="0.2857" stop-color="#eaeaea"/><stop offset="0.3571" stop-color="#e8e8e8"/><stop offset="0.4286" stop-color="#e5e5e5"/><stop offset="0.5000" stop-color="#e2e2e2"/><stop offset="0.5714" stop-color="#e0e0e0"/><stop offset="0.6429" stop-color="#dddddd"/><stop offset="0.7143" stop-color="#dadada"/><stop offset="0.7857" stop-color="#d7d7d7"/><stop offset="0.8571" stop-color="#d4d4d4"/><stop offset="0.9286" stop-color="#d1d1d1"/><stop offset="1.0000" stop-color="#cecece"/></linearGradient>
<linearGradient id="g42" gradientUnits="userSpaceOnUse" x1="0" y1="1.0" x2="0" y2="704.0"><stop offset="0.0000" stop-color="#f2f2f2"/><stop offset="0.0714" stop-color="#f0f0f0"/><stop offset="0.1429" stop-color="#eeeeee"/><stop offset="0.2143" stop-color="#ececec"/><stop offset="0.2857" stop-color="#eaeaea"/><stop offset="0.3571" stop-color="#e7e7e7"/><stop offset="0.4286" stop-color="#e5e5e5"/><stop offset="0.5000" stop-color="#e2e2e2"/><stop offset="0.5714" stop-color="#dfdfdf"/><stop offset="0.6429" stop-color="#dcdcdc"/><stop offset="0.7143" stop-color="#d9d9d9"/><stop offset="0.7857" stop-color="#d7d7d7"/><stop offset="0.8571" stop-color="#d4d4d4"/><stop offset="0.9286" stop-color="#d1d1d1"/><stop offset="1.0000" stop-color="#cecece"/></linearGradient>
<linearGradient id="g43" gradientUnits="userSpaceOnUse" x1="0" y1="1.0" x2="0" y2="704.0"><stop offset="0.0000" stop-color="#f1f1f1"/><stop offset="0.0714" stop-color="#efefef"/><stop offset="0.1429" stop-color="#ededed"/><stop offset="0.2143" stop-color="#ebebeb"/><stop offset="0.2857" stop-color="#e9e9e9"/><stop offset="0.3571" stop-color="#e7e7e7"/><stop offset="0.4286" stop-color="#e4e4e4"/><stop offset="0.5000" stop-color="#e1e1e1"/><stop offset="0.5714" stop-color="#dfdfdf"/><stop offset="0.6429" stop-color="#dcdcdc"/><stop offset="0.7143" stop-color="#d9d9d9"/><stop offset="0.7857" stop-color="#d6d6d6"/><stop offset="0.8571" stop-color="#d3d3d3"/><stop offset="0.9286" stop-color="#d0d0d0"/><stop offset="1.0000" stop-color="#cdcdcd"/></linearGradient>
<linearGradient id="g44" gradientUnits="userSpaceOnUse" x1="0" y1="1.0" x2="0" y2="704.0"><stop offset="0.0000" stop-color="#f0f0f0"/><stop offset="0.0714" stop-color="#efefef"/><stop offset="0.1429" stop-color="#ededed"/><stop offset="0.2143" stop-color="#ebebeb"/><stop offset="0.2857" stop-color="#e8e8e8"/><stop offset="0.3571" stop-color="#e6e6e6"/><stop offset="0.4286" stop-color="#e4e4e4"/><stop offset="0.5000" stop-color="#e1e1e1"/><stop offset="0.5714" stop-color="#dedede"/><stop offset="0.6429" stop-color="#dbdbdb"/><stop offset="0.7143" stop-color="#d9d9d9"/><stop offset="0.7857" stop-color="#d6d6d6"/><stop offset="0.8571" stop-color="#d3d3d3"/><stop offset="0.9286" stop-color="#d0d0d0"/><stop offset="1.0000" stop-color="#cdcdcd"/></linearGradient>
<linearGradient id="g45" gradientUnits="userSpaceOnUse" x1="0" y1="1.0" x2="0" y2="704.0"><stop offset="0.0000" stop-color="#efefef"/><stop offset="0.0714" stop-color="#eeeeee"/><stop offset="0.1429" stop-color="#ececec"/><stop offset="0.2143" stop-color="#eaeaea"/><stop offset="0.2857" stop-color="#e8e8e8"/><stop offset="0.3571" stop-color="#e5e5e5"/><stop offset="0.4286" stop-color="#e3e3e3"/><stop offset="0.5000" stop-color="#e0e0e0"/><stop offset="0.5714" stop-color="#dedede"/><stop offset="0.6429" stop-color="#dbdbdb"/><stop offset="0.7143" stop-color="#d8d8d8"/><stop offset="0.7857" stop-color="#d5d5d5"/><stop offset="0.8571" stop-color="#d2d2d2"/><stop offset="0.9286" stop-color="#d0d0d0"/><stop offset="1.0000" stop-color="#cdcdcd"/></linearGradient>
<linearGradient id="g46" gradientUnits="userSpaceOnUse" x1="0" y1="1.0" x2="0" y2="704.0"><stop offset="0.0000" stop-color="#eeeeee"/><stop offset="0.0714" stop-color="#ededed"/><stop offset="0.1429" stop-color="#ebebeb"/><stop offset="0.2143" stop-color="#e9e9e9"/><stop offset="0.2857" stop-color="#e7e7e7"/><stop offset="0.3571" stop-color="#e5e5e5"/><stop offset="0.4286" stop-color="#e2e2e2"/><stop offset="0.5000" stop-color="#e0e0e0"/><stop offset="0.5714" stop-color="#dddddd"/><stop offset="0.6429" stop-color="#dbdbdb"/><stop offset="0.7143" stop-color="#d8d8d8"/><stop offset="0.7857" stop-color="#d5d5d5"/><stop offset="0.8571" stop-color="#d2d2d2"/><stop offset="0.9286" stop-color="#cfcfcf"/><stop offset="1.0000" stop-color="#cccccc"/></linearGradient>
<linearGradient id="g47" gradientUnits="userSpaceOnUse" x1="0" y1="1.0" x2="0" y2="704.0"><stop offset="0.0000" stop-color="#ededed"/><stop offset="0.0714" stop-color="#ececec"/><stop offset="0.1429" stop-color="#ebebeb"/><stop offset="0.2143" stop-color="#e9e9e9"/><stop offset="0.2857" stop-color="#e7e7e7"/><stop offset="0.3571" stop-color="#e4e4e4"/><stop offset="0.4286" stop-color="#e2e2e2"/><stop offset="0.5000" stop-color="#dfdfdf"/><stop offset="0.5714" stop-color="#dddddd"/><stop offset="0.6429" stop-color="#dadada"/><stop offset="0.7143" stop-color="#d7d7d7"/><stop offset="0.7857" stop-color="#d5d5d5"/><stop offset="0.8571" stop-color="#d2d2d2"/><stop offset="0.9286" stop-color="#cfcfcf"/><stop offset="1.0000" stop-color="#cccccc"/></linearGradient>
<linearGradient id="g48" gradientUnits="userSpaceOnUse" x1="0" y1="1.0" x2="0" y2="704.0"><stop offset="0.0000" stop-color="#ededed"/><stop offset="0.0714" stop-color="#ececec"/><stop offset="0.1429" stop-color="#eaeaea"/><stop offset="0.2143" stop-color="#e8e8e8"/><stop offset="0.2857" stop-color="#e6e6e6"/><stop offset="0.3571" stop-color="#e4e4e4"/><stop offset="0.4286" stop-color="#e2e2e2"/><stop offset="0.5000" stop-color="#dfdfdf"/><stop offset="0.5714" stop-color="#dddddd"/><stop offset="0.6429" stop-color="#dadada"/><stop offset="0.7143" stop-color="#d7d7d7"/><stop offset="0.7857" stop-color="#d4d4d4"/><stop offset="0.8571" stop-color="#d2d2d2"/><stop offset="0.9286" stop-color="#cfcfcf"/><stop offset="1.0000" stop-color="#cccccc"/></linearGradient>
<linearGradient id="g49" gradientUnits="userSpaceOnUse" x1="0" y1="1.0" x2="0" y2="704.0"><stop offset="0.0000" stop-color="#ececec"/><stop offset="0.0714" stop-color="#ebebeb"/><stop offset="0.1429" stop-color="#eaeaea"/><stop offset="0.2143" stop-color="#e8e8e8"/><stop offset="0.2857" stop-color="#e6e6e6"/><stop offset="0.3571" stop-color="#e4e4e4"/><stop offset="0.4286" stop-color="#e1e1e1"/><stop offset="0.5000" stop-color="#dfdfdf"/><stop offset="0.5714" stop-color="#dcdcdc"/><stop offset="0.6429" stop-color="#dadada"/><stop offset="0.7143" stop-color="#d7d7d7"/><stop offset="0.7857" stop-color="#d4d4d4"/><stop offset="0.8571" stop-color="#d1d1d1"/><stop offset="0.9286" stop-color="#cecece"/><stop offset="1.0000" stop-color="#cccccc"/></linearGradient>
<linearGradient id="g50" gradientUnits="userSpaceOnUse" x1="0" y1="1.0" x2="0" y2="704.0"><stop offset="0.0000" stop-color="#ececec"/><stop offset="0.0714" stop-color="#ebebeb"/><stop offset="0.1429" stop-color="#e9e9e9"/><stop offset="0.2143" stop-color="#e8e8e8"/><stop offset="0.2857" stop-color="#e6e6e6"/><stop offset="0.3571" stop-color="#e3e3e3"/><stop offset="0.4286" stop-color="#e1e1e1"/><stop offset="0.5000" stop-color="#dfdfdf"/><stop offset="0.5714" stop-color="#dcdcdc"/><stop offset="0.6429" stop-color="#d9d9d9"/><stop offset="0.7143" stop-color="#d7d7d7"/><stop offset="0.7857" stop-color="#d4d4d4"/><stop offset="0.8571" stop-color="#d1d1d1"/><stop offset="0.9286" stop-color="#cecece"/><stop offset="1.0000" stop-color="#cbcbcb"/></linearGradient>
<linearGradient id="g51" gradientUnits="userSpaceOnUse" x1="0" y1="1.0" x2="0" y2="704.0"><stop offset="0.0000" stop-color="#ebebeb"/><stop offset="0.0714" stop-color="#eaeaea"/><stop offset="0.1429" stop-color="#e9e9e9"/><stop offset="0.2143" stop-color="#e7e7e7"/><stop offset="0.2857" stop-color="#e5e5e5"/><stop offset="0.3571" stop-color="#e3e3e3"/><stop offset="0.4286" stop-color="#e1e1e1"/><stop offset="0.5000" stop-color="#dedede"/><stop offset="0.5714" stop-color="#dcdcdc"/><stop offset="0.6429" stop-color="#d9d9d9"/><stop offset="0.7143" stop-color="#d6d6d6"/><stop offset="0.7857" stop-color="#d4d4d4"/><stop offset="0.8571" stop-color="#d1d1d1"/><stop offset="0.9286" stop-color="#cecece"/><stop offset="1.0000" stop-color="#cbcbcb"/></linearGradient>
<linearGradient id="g52" gradientUnits="userSpaceOnUse" x1="0" y1="1.0" x2="0" y2="704.0"><stop offset="0.0000" stop-color="#ebebeb"/><stop offset="0.0714" stop-color="#eaeaea"/><stop offset="0.1429" stop-color="#e9e9e9"/><stop offset="0.2143" stop-color="#e7e7e7"/><stop offset="0.2857" stop-color="#e5e5e5"/><stop offset="0.3571" stop-color="#e3e3e3"/><stop offset="0.4286" stop-color="#e0e0e0"/><stop offset="0.5000" stop-color="#dedede"/><stop offset="0.5714" stop-color="#dcdcdc"/><stop offset="0.6429" stop-color="#d9d9d9"/><stop offset="0.7143" stop-color="#d6d6d6"/><stop offset="0.7857" stop-color="#d3d3d3"/><stop offset="0.8571" stop-color="#d1d1d1"/><stop offset="0.9286" stop-color="#cecece"/><stop offset="1.0000" stop-color="#cbcbcb"/></linearGradient>
<linearGradient id="g53" gradientUnits="userSpaceOnUse" x1="0" y1="1.0" x2="0" y2="704.0"><stop offset="0.0000" stop-color="#eaeaea"/><stop offset="0.0714" stop-color="#e9e9e9"/><stop offset="0.1429" stop-color="#e8e8e8"/><stop offset="0.2143" stop-color="#e6e6e6"/><stop offset="0.2857" stop-color="#e5e5e5"/><stop offset="0.3571" stop-color="#e2e2e2"/><stop offset="0.4286" stop-color="#e0e0e0"/><stop offset="0.5000" stop-color="#dedede"/><stop offset="0.5714" stop-color="#dbdbdb"/><stop offset="0.6429" stop-color="#d9d9d9"/><stop offset="0.7143" stop-color="#d6d6d6"/><stop offset="0.7857" stop-color="#d3d3d3"/><stop offset="0.8571" stop-color="#d0d0d0"/><stop offset="0.9286" stop-color="#cecece"/><stop offset="1.0000" stop-color="#cbcbcb"/></linearGradient>
<linearGradient id="g54" gradientUnits="userSpaceOnUse" x1="0" y1="1.0" x2="0" y2="704.0"><stop offset="0.0000" stop-color="#eaeaea"/><stop offset="0.0714" stop-color="#e9e9e9"/><stop offset="0.1429" stop-color="#e8e8e8"/><stop offset="0.2143" stop-color="#e6e6e6"/><stop offset="0.2857" stop-color="#e4e4e4"/><stop offset="0.3571" stop-color="#e2e2e2"/><stop offset="0.4286" stop-color="#e0e0e0"/><stop offset="0.5000" stop-color="#dddddd"/><stop offset="0.5714" stop-color="#dbdbdb"/><stop offset="0.6429" stop-color="#d8d8d8"/><stop offset="0.7143" stop-color="#d6d6d6"/><stop offset="0.7857" stop-color="#d3d3d3"/><stop offset="0.8571" stop-color="#d0d0d0"/><stop offset="0.9286" stop-color="#cdcdcd"/><stop offset="1.0000" stop-color="#cbcbcb"/></linearGradient>
<linearGradient id="g55" gradientUnits="userSpaceOnUse" x1="0" y1="1.0" x2="0" y2="704.0"><stop offset="0.0000" stop-color="#e9e9e9"/><stop offset="0.0714" stop-color="#e8e8e8"/><stop offset="0.1429" stop-color="#e7e7e7"/><stop offset="0.2143" stop-color="#e6e6e6"/><stop offset="0.2857" stop-color="#e4e4e4"/><stop offset="0.3571" stop-color="#e2e2e2"/><stop offset="0.4286" stop-color="#e0e0e0"/><stop offset="0.5000" stop-color="#dddddd"/><stop offset="0.5714" stop-color="#dbdbdb"/><stop offset="0.6429" stop-color="#d8d8d8"/><stop offset="0.7143" stop-color="#d5d5d5"/><stop offset="0.7857" stop-color="#d3d3d3"/><stop offset="0.8571" stop-color="#d0d0d0"/><stop offset="0.9286" stop-color="#cdcdcd"/><stop offset="1.0000" stop-color="#cacaca"/></linearGradient>
<linearGradient id="g56" gradientUnits="userSpaceOnUse" x1="0" y1="1.0" x2="0" y2="704.0"><stop offset="0.0000" stop-color="#e8e8e8"/><stop offset="0.0714" stop-color="#e8e8e8"/><stop offset="0.1429" stop-color="#e7e7e7"/><stop offset="0.2143" stop-color="#e5e5e5"/><stop offset="0.2857" stop-color="#e3e3e3"/><stop offset="0.3571" stop-color="#e1e1e1"/><stop offset="0.4286" stop-color="#dfdfdf"/><stop offset="0.5000" stop-color="#dddddd"/><stop offset="0.5714" stop-color="#dadada"/><stop offset="0.6429" stop-color="#d8d8d8"/><stop offset="0.7143" stop-color="#d5d5d5"/><stop offset="0.7857" stop-color="#d3d3d3"/><stop offset="0.8571" stop-color="#d0d0d0"/><stop offset="0.9286" stop-color="#cdcdcd"/><stop offset="1.0000" stop-color="#cacaca"/></linearGradient>
<linearGradient id="g57" gradientUnits="userSpaceOnUse" x1="0" y1="1.0" x2="0" y2="704.0"><stop offset="0.0000" stop-color="#e8e8e8"/><stop offset="0.0714" stop-color="#e7e7e7"/><stop offset="0.1429" stop-color="#e6e6e6"/><stop offset="0.2143" stop-color="#e5e5e5"/><stop offset="0.2857" stop-color="#e3e3e3"/><stop offset="0.3571" stop-color="#e1e1e1"/><stop offset="0.4286" stop-color="#dfdfdf"/><stop offset="0.5000" stop-color="#dddddd"/><stop offset="0.5714" stop-color="#dadada"/><stop offset="0.6429" stop-color="#d8d8d8"/><stop offset="0.7143" stop-color="#d5d5d5"/><stop offset="0.7857" stop-color="#d2d2d2"/><stop offset="0.8571" stop-color="#d0d0d0"/><stop offset="0.9286" stop-color="#cdcdcd"/><stop offset="1.0000" stop-color="#cacaca"/></linearGradient>
<linearGradient id="g58" gradientUnits="userSpaceOnUse" x1="0" y1="1.0" x2="0" y2="704.0"><stop offset="0.0000" stop-color="#e7e7e7"/><stop offset="0.0714" stop-color="#e7e7e7"/><stop offset="0.1429" stop-color="#e6e6e6"/><stop offset="0.2143" stop-color="#e4e4e4"/><stop offset="0.2857" stop-color="#e3e3e3"/><stop offset="0.3571" stop-color="#e1e1e1"/><stop offset="0.4286" stop-color="#dfdfdf"/><stop offset="0.5000" stop-color="#dcdcdc"/><stop offset="0.5714" stop-color="#dadada"/><stop offset="0.6429" stop-color="#d7d7d7"/><stop offset="0.7143" stop-color="#d5d5d5"/><stop offset="0.7857" stop-color="#d2d2d2"/><stop offset="0.8571" stop-color="#cfcfcf"/><stop offset="0.9286" stop-color="#cdcdcd"/><stop offset="1.0000" stop-color="#cacaca"/></linearGradient>
<linearGradient id="g59" gradientUnits="userSpaceOnUse" x1="0" y1="1.0" x2="0" y2="704.0"><stop offset="0.0000" stop-color="#e7e7e7"/><stop offset="0.0714" stop-color="#e6e6e6"/><stop offset="0.1429" stop-color="#e5e5e5"/><stop offset="0.2143" stop-color="#e4e4e4"/><stop offset="0.2857" stop-color="#e2e2e2"/><stop offset="0.3571" stop-color="#e0e0e0"/><stop offset="0.4286" stop-color="#dedede"/><stop offset="0.5000" stop-color="#dcdcdc"/><stop offset="0.5714" stop-color="#dadada"/><stop offset="0.6429" stop-color="#d7d7d7"/><stop offset="0.7143" stop-color="#d4d4d4"/><stop offset="0.7857" stop-color="#d2d2d2"/><stop offset="0.8571" stop-color="#cfcfcf"/><stop offset="0.9286" stop-color="#cccccc"/><stop offset="1.0000" stop-color="#cacaca"/></linearGradient>
<linearGradient id="g60" gradientUnits="userSpaceOnUse" x1="0" y1="1.0" x2="0" y2="704.0"><stop offset="0.0000" stop-color="#e6e6e6"/><stop offset="0.0714" stop-color="#e6e6e6"/><stop offset="0.1429" stop-color="#e5e5e5"/><stop offset="0.2143" stop-color="#e3e3e3"/><stop offset="0.2857" stop-color="#e2e2e2"/><stop offset="0.3571" stop-color="#e0e0e0"/><stop offset="0.4286" stop-color="#dedede"/><stop offset="0.5000" stop-color="#dcdcdc"/><stop offset="0.5714" stop-color="#d9d9d9"/><stop offset="0.6429" stop-color="#d7d7d7"/><stop offset="0.7143" stop-color="#d4d4d4"/><stop offset="0.7857" stop-color="#d2d2d2"/><stop offset="0.8571" stop-color="#cfcfcf"/><stop offset="0.9286" stop-color="#cccccc"/><stop offset="1.0000" stop-color="#c9c9c9"/></linearGradient>
<linearGradient id="g61" gradientUnits="userSpaceOnUse" x1="0" y1="1.0" x2="0" y2="704.0"><stop offset="0.0000" stop-color="#e5e5e5"/><stop offset="0.0714" stop-color="#e5e5e5"/><stop offset="0.1429" stop-color="#e4e4e4"/><stop offset="0.2143" stop-color="#e3e3e3"/><stop offset="0.2857" stop-color="#e1e1e1"/><stop offset="0.3571" stop-color="#e0e0e0"/><stop offset="0.4286" stop-color="#dedede"/><stop offset="0.5000" stop-color="#dbdbdb"/><stop offset="0.5714" stop-color="#d9d9d9"/><stop offset="0.6429" stop-color="#d6d6d6"/><stop offset="0.7143" stop-color="#d4d4d4"/><stop offset="0.7857" stop-color="#d1d1d1"/><stop offset="0.8571" stop-color="#cfcfcf"/><stop offset="0.9286" stop-color="#cccccc"/><stop offset="1.0000" stop-color="#c9c9c9"/></linearGradient>
<linearGradient id="g62" gradientUnits="userSpaceOnUse" x1="0" y1="1.0" x2="0" y2="704.0"><stop offset="0.0000" stop-color="#e5e5e5"/><stop offset="0.0714" stop-color="#e5e5e5"/><stop offset="0.1429" stop-color="#e4e4e4"/><stop offset="0.2143" stop-color="#e3e3e3"/><stop offset="0.2857" stop-color="#e1e1e1"/><stop offset="0.3571" stop-color="#dfdfdf"/><stop offset="0.4286" stop-color="#dddddd"/><stop offset="0.5000" stop-color="#dbdbdb"/><stop offset="0.5714" stop-color="#d9d9d9"/><stop offset="0.6429" stop-color="#d6d6d6"/><stop offset="0.7143" stop-color="#d4d4d4"/><stop offset="0.7857" stop-color="#d1d1d1"/><stop offset="0.8571" stop-color="#cecece"/><stop offset="0.9286" stop-color="#cccccc"/><stop offset="1.0000" stop-color="#c9c9c9"/></linearGradient>
<linearGradient id="g63" gradientUnits="userSpaceOnUse" x1="0" y1="1.0" x2="0" y2="704.0"><stop offset="0.0000" stop-color="#e4e4e4"/><stop offset="0.0714" stop-color="#e4e4e4"/><stop offset="0.1429" stop-color="#e3e3e3"/><stop offset="0.2143" stop-color="#e2e2e2"/><stop offset="0.2857" stop-color="#e1e1e1"/><stop offset="0.3571" stop-color="#dfdfdf"/><stop offset="0.4286" stop-color="#dddddd"/><stop offset="0.5000" stop-color="#dbdbdb"/><stop offset="0.5714" stop-color="#d8d8d8"/><stop offset="0.6429" stop-color="#d6d6d6"/><stop offset="0.7143" stop-color="#d3d3d3"/><stop offset="0.7857" stop-color="#d1d1d1"/><stop offset="0.8571" stop-color="#cecece"/><stop offset="0.9286" stop-color="#cbcbcb"/><stop offset="1.0000" stop-color="#c9c9c9"/></linearGradient>
<linearGradient id="g64" gradientUnits="userSpaceOnUse" x1="0" y1="1.0" x2="0" y2="704.0"><stop offset="0.0000" stop-color="#e3e3e3"/><stop offset="0.0714" stop-color="#e3e3e3"/><stop offset="0.1429" stop-color="#e3e3e3"/><stop offset="0.2143" stop-color="#e2e2e2"/><stop offset="0.2857" stop-color="#e0e0e0"/><stop offset="0.3571" stop-color="#dedede"/><stop offset="0.4286" stop-color="#dcdcdc"/><stop offset="0.5000" stop-color="#dadada"/><stop offset="0.5714" stop-color="#d8d8d8"/><stop offset="0.6429" stop-color="#d6d6d6"/><stop offset="0.7143" stop-color="#d3d3d3"/><stop offset="0.7857" stop-color="#d1d1d1"/><stop offset="0.8571" stop-color="#cecece"/><stop offset="0.9286" stop-color="#cbcbcb"/><stop offset="1.0000" stop-color="#c8c8c8"/></linearGradient>
<linearGradient id="g65" gradientUnits="userSpaceOnUse" x1="0" y1="1.0" x2="0" y2="704.0"><stop offset="0.0000" stop-color="#e3e3e3"/><stop offset="0.0714" stop-color="#e3e3e3"/><stop offset="0.1429" stop-color="#e2e2e2"/><stop offset="0.2143" stop-color="#e1e1e1"/><stop offset="0.2857" stop-color="#e0e0e0"/><stop offset="0.3571" stop-color="#dedede"/><stop offset="0.4286" stop-color="#dcdcdc"/><stop offset="0.5000" stop-color="#dadada"/><stop offset="0.5714" stop-color="#d8d8d8"/><stop offset="0.6429" stop-color="#d5d5d5"/><stop offset="0.7143" stop-color="#d3d3d3"/><stop offset="0.7857" stop-color="#d0d0d0"/><stop offset="0.8571" stop-color="#cecece"/><stop offset="0.9286" stop-color="#cbcbcb"/><stop offset="1.0000" stop-color="#c8c8c8"/></linearGradient>
<linearGradient id="g66" gradientUnits="userSpaceOnUse" x1="0" y1="1.0" x2="0" y2="704.0"><stop offset="0.0000" stop-color="#e2e2e2"/><stop offset="0.0714" stop-color="#e2e2e2"/><stop offset="0.1429" stop-color="#e2e2e2"/><stop offset="0.2143" stop-color="#e1e1e1"/><stop offset="0.2857" stop-color="#dfdfdf"/><stop offset="0.3571" stop-color="#dedede"/><stop offset="0.4286" stop-color="#dcdcdc"/><stop offset="0.5000" stop-color="#dadada"/><stop offset="0.5714" stop-color="#d7d7d7"/><stop offset="0.6429" stop-color="#d5d5d5"/><stop offset="0.7143" stop-color="#d3d3d3"/><stop offset="0.7857" stop-color="#d0d0d0"/><stop offset="0.8571" stop-color="#cdcdcd"/><stop offset="0.9286" stop-color="#cbcbcb"/><stop offset="1.0000" stop-color="#c8c8c8"/></linearGradient>
<linearGradient id="g67" gradientUnits="userSpaceOnUse" x1="0" y1="1.0" x2="0" y2="704.0"><stop offset="0.0000" stop-color="#e1e1e1"/><stop offset="0.0714" stop-color="#e2e2e2"/><stop offset="0.1429" stop-color="#e1e1e1"/><stop offset="0.2143" stop-color="#e0e0e0"/><stop offset="0.2857" stop-color="#dfdfdf"/><stop offset="0.3571" stop-color="#dddddd"/><stop offset="0.4286" stop-color="#dbdbdb"/><stop offset="0.5000" stop-color="#d9d9d9"/><stop offset="0.5714" stop-color="#d7d7d7"/><stop offset="0.6429" stop-color="#d5d5d5"/><stop offset="0.7143" stop-color="#d2d2d2"/><stop offset="0.7857" stop-color="#d0d0d0"/><stop offset="0.8571" stop-color="#cdcdcd"/><stop offset="0.9286" stop-color="#cacaca"/><stop offset="1.0000" stop-color="#c8c8c8"/></linearGradient>
<linearGradient id="g68" gradientUnits="userSpaceOnUse" x1="0" y1="1.0" x2="0" y2="704.0"><stop offset="0.0000" stop-color="#e0e0e0"/><stop offset="0.0714" stop-color="#e1e1e1"/><stop offset="0.1429" stop-color="#e1e1e1"/><stop offset="0.2143" stop-color="#e0e0e0"/><stop offset="0.2857" stop-color="#dedede"/><stop offset="0.3571" stop-color="#dddddd"/><stop offset="0.4286" stop-color="#dbdbdb"/><stop offset="0.5000" stop-color="#d9d9d9"/><stop offset="0.5714" stop-color="#d7d7d7"/><stop offset="0.6429" stop-color="#d4d4d4"/><stop offset="0.7143" stop-color="#d2d2d2"/><stop offset="0.7857" stop-color="#cfcfcf"/><stop offset="0.8571" stop-color="#cdcdcd"/><stop offset="0.9286" stop-color="#cacaca"/><stop offset="1.0000" stop-color="#c7c7c7"/></linearGradient>
<linearGradient id="g69" gradientUnits="userSpaceOnUse" x1="0" y1="1.0" x2="0" y2="704.0"><stop offset="0.0000" stop-color="#e0e0e0"/><stop offset="0.0714" stop-color="#e0e0e0"/><stop offset="0.1429" stop-color="#e0e0e0"/><stop offset="0.2143" stop-color="#dfdfdf"/><stop offset="0.2857" stop-color="#dedede"/><stop offset="0.3571" stop-color="#dcdcdc"/><stop offset="0.4286" stop-color="#dbdbdb"/><stop offset="0.5000" stop-color="#d9d9d9"/><stop offset="0.5714" stop-color="#d6d6d6"/><stop offset="0.6429" stop-color="#d4d4d4"/><stop offset="0.7143" stop-color="#d2d2d2"/><stop offset="0.7857" stop-color="#cfcfcf"/><stop offset="0.8571" stop-color="#cdcdcd"/><stop offset="0.9286" stop-color="#cacaca"/><stop offset="1.0000" stop-color="#c7c7c7"/></linearGradient>
<linearGradient id="g70" gradientUnits="userSpaceOnUse" x1="0" y1="1.0" x2="0" y2="704.0"><stop offset="0.0000" stop-color="#dfdfdf"/><stop offset="0.0714" stop-color="#e0e0e0"/><stop offset="0.1429" stop-color="#e0e0e0"/><stop offset="0.2143" stop-color="#dfdfdf"/><stop offset="0.2857" stop-color="#dedede"/><stop offset="0.3571" stop-color="#dcdcdc"/><stop offset="0.4286" stop-color="#dadada"/><stop offset="0.5000" stop-color="#d8d8d8"/><stop offset="0.5714" stop-color="#d6d6d6"/><stop offset="0.6429" stop-color="#d4d4d4"/><stop offset="0.7143" stop-color="#d1d1d1"/><stop offset="0.7857" stop-color="#cfcfcf"/><stop offset="0.8571" stop-color="#cccccc"/><stop offset="0.9286" stop-color="#cacaca"/><stop offset="1.0000" stop-color="#c7c7c7"/></linearGradient>
<linearGradient id="g71" gradientUnits="userSpaceOnUse" x1="0" y1="1.0" x2="0" y2="704.0"><stop offset="0.0000" stop-color="#dedede"/><stop offset="0.0714" stop-color="#dfdfdf"/><stop offset="0.1429" stop-color="#dfdfdf"/><stop offset="0.2143" stop-color="#dedede"/><stop offset="0.2857" stop-color="#dddddd"/><stop offset="0.3571" stop-color="#dcdcdc"/><stop offset="0.4286" stop-color="#dadada"/><stop offset="0.5000" stop-color="#d8d8d8"/><stop offset="0.5714" stop-color="#d6d6d6"/><stop offset="0.6429" stop-color="#d3d3d3"/><stop offset="0.7143" stop-color="#d1d1d1"/><stop offset="0.7857" stop-color="#cfcfcf"/><stop offset="0.8571" stop-color="#cccccc"/><stop offset="0.9286" stop-color="#c9c9c9"/><stop offset="1.0000" stop-color="#c7c7c7"/></linearGradient>
<linearGradient id="g72" gradientUnits="userSpaceOnUse" x1="0" y1="1.0" x2="0" y2="704.0"><stop offset="0.0000" stop-color="#dddddd"/><stop offset="0.0714" stop-color="#dedede"/><stop offset="0.1429" stop-color="#dedede"/><stop offset="0.2143" stop-color="#dedede"/><stop offset="0.2857" stop-color="#dddddd"/><stop offset="0.3571" stop-color="#dbdbdb"/><stop offset="0.4286" stop-color="#d9d9d9"/><stop offset="0.5000" stop-color="#d8d8d8"/><stop offset="0.5714" stop-color="#d5d5d5"/><stop offset="0.6429" stop-color="#d3d3d3"/><stop offset="0.7143" stop-color="#d1d1d1"/><stop offset="0.7857" stop-color="#cecece"/><stop offset="0.8571" stop-color="#cccccc"/><stop offset="0.9286" stop-color="#c9c9c9"/><stop offset="1.0000" stop-color="#c7c7c7"/></linearGradient>
<linearGradient id="g73" gradientUnits="userSpaceOnUse" x1="0" y1="1.0" x2="0" y2="704.0"><stop offset="0.0000" stop-color="#dddddd"/><stop offset="0.0714" stop-color="#dedede"/><stop offset="0.1429" stop-color="#dedede"/><stop offset="0.2143" stop-color="#dddddd"/><stop offset="0.2857" stop-color="#dcdcdc"/><stop offset="0.3571" stop-color="#dbdbdb"/><stop offset="0.4286" stop-color="#d9d9d9"/><stop offset="0.5000" stop-color="#d7d7d7"/><stop offset="0.5714" stop-color="#d5d5d5"/><stop offset="0.6429" stop-color="#d3d3d3"/><stop offset="0.7143" stop-color="#d0d0d0"/><stop offset="0.7857" stop-color="#cecece"/><stop offset="0.8571" stop-color="#cccccc"/><stop offset="0.9286" stop-color="#c9c9c9"/><stop offset="1.0000" stop-color="#c6c6c6"/></linearGradient>
<linearGradient id="g74" gradientUnits="userSpaceOnUse" x1="0" y1="1.0" x2="0" y2="704.0"><stop offset="0.0000" stop-color="#dcdcdc"/><stop offset="0.0714" stop-color="#dddddd"/><stop offset="0.1429" stop-color="#dddddd"/><stop offset="0.2143" stop-color="#dddddd"/><stop offset="0.2857" stop-color="#dcdcdc"/><stop offset="0.3571" stop-color="#dadada"/><stop offset="0.4286" stop-color="#d9d9d9"/><stop offset="0.5000" stop-color="#d7d7d7"/><stop offset="0.5714" stop-color="#d5d5d5"/><stop offset="0.6429" stop-color="#d3d3d3"/><stop offset="0.7143" stop-color="#d0d0d0"/><stop offset="0.7857" stop-color="#cecece"/><stop offset="0.8571" stop-color="#cbcbcb"/><stop offset="0.9286" stop-color="#c9c9c9"/><stop offset="1.0000" stop-color="#c6c6c6"/></linearGradient>
<linearGradient id="g75" gradientUnits="userSpaceOnUse" x1="0" y1="1.0" x2="0" y2="704.0"><stop offset="0.0000" stop-color="#dbdbdb"/><stop offset="0.0714" stop-color="#dcdcdc"/><stop offset="0.1429" stop-color="#dddddd"/><stop offset="0.2143" stop-color="#dcdcdc"/><stop offset="0.2857" stop-color="#dbdbdb"/><stop offset="0.3571" stop-color="#dadada"/><stop offset="0.4286" stop-color="#d8d8d8"/><stop offset="0.5000" stop-color="#d6d6d6"/><stop offset="0.5714" stop-color="#d4d4d4"/><stop offset="0.6429" stop-color="#d2d2d2"/><stop offset="0.7143" stop-color="#d0d0d0"/><stop offset="0.7857" stop-color="#cdcdcd"/><stop offset="0.8571" stop-color="#cbcbcb"/><stop offset="0.9286" stop-color="#c8c8c8"/><stop offset="1.0000" stop-color="#c6c6c6"/></linearGradient>
<linearGradient id="g76" gradientUnits="userSpaceOnUse" x1="0" y1="1.0" x2="0" y2="704.0"><stop offset="0.0000" stop-color="#dadada"/><stop offset="0.0714" stop-color="#dcdcdc"/><stop offset="0.1429" stop-color="#dcdcdc"/><stop offset="0.2143" stop-color="#dcdcdc"/><stop offset="0.2857" stop-color="#dbdbdb"/><stop offset="0.3571" stop-color="#d9d9d9"/><stop offset="0.4286" stop-color="#d8d8d8"/><stop offset="0.5000" stop-color="#d6d6d6"/><stop offset="0.5714" stop-color="#d4d4d4"/><stop offset="0.6429" stop-color="#d2d2d2"/><stop offset="0.7143" stop-color="#d0d0d0"/><stop offset="0.7857" stop-color="#cdcdcd"/><stop offset="0.8571" stop-color="#cbcbcb"/><stop offset="0.9286" stop-color="#c8c8c8"/><stop offset="1.0000" stop-color="#c6c6c6"/></linearGradient>
<linearGradient id="g77" gradientUnits="userSpaceOnUse" x1="0" y1="1.0" x2="0" y2="704.0"><stop offset="0.0000" stop-color="#d9d9d9"/><stop offset="0.0714" stop-color="#dbdbdb"/><stop offset="0.1429" stop-color="#dbdbdb"/><stop offset="0.2143" stop-color="#dbdbdb"/><stop offset="0.2857" stop-color="#dadada"/><stop offset="0.3571" stop-color="#d9d9d9"/><stop offset="0.4286" stop-color="#d7d7d7"/><stop offset="0.5000" stop-color="#d6d6d6"/><stop offset="0.5714" stop-color="#d4d4d4"/><stop offset="0.6429" stop-color="#d2d2d2"/><stop offset="0.7143" stop-color="#cfcfcf"/><stop offset="0.7857" stop-color="#cdcdcd"/><stop offset="0.8571" stop-color="#cacaca"/><stop offset="0.9286" stop-color="#c8c8c8"/><stop offset="1.0000" stop-color="#c5c5c5"/></linearGradient>
<linearGradient id="g78" gradientUnits="userSpaceOnUse" x1="0" y1="1.0" x2="0" y2="704.0"><stop offset="0.0000" stop-color="#d8d8d8"/><stop offset="0.0714" stop-color="#dadada"/><stop offset="0.1429" stop-color="#dbdbdb"/><stop offset="0.2143" stop-color="#dbdbdb"/><stop offset="0.2857" stop-color="#dadada"/><stop offset="0.3571" stop-color="#d9d9d9"/><stop offset="0.4286" stop-color="#d7d7d7"/><stop offset="0.5000" stop-color="#d5d5d5"/><stop offset="0.5714" stop-color="#d3d3d3"/><stop offset="0.6429" stop-color="#d1d1d1"/><stop offset="0.7143" stop-color="#cfcfcf"/><stop offset="0.7857" stop-color="#cdcdcd"/><stop offset="0.8571" stop-color="#cacaca"/><stop offset="0.9286" stop-color="#c8c8c8"/><stop offset="1.0000" stop-color="#c5c5c5"/></linearGradient>
<linearGradient id="g79" gradientUnits="userSpaceOnUse" x1="0" y1="1.0" x2="0" y2="704.0"><stop offset="0.0000" stop-color="#d7d7d7"/><stop offset="0.0714" stop-color="#d9d9d9"/><stop offset="0.1429" stop-color="#dadada"/><stop offset="0.2143" stop-color="#dadada"/><stop offset="0.2857" stop-color="#d9d9d9"/><stop offset="0.3571" stop-color="#d8d8d8"/><stop offset="0.4286" stop-color="#d7d7d7"/><stop offset="0.5000" stop-color="#d5d5d5"/><stop offset="0.5714" stop-color="#d3d3d3"/><stop offset="0.6429" stop-color="#d1d1d1"/><stop offset="0.7143" stop-color="#cfcfcf"/><stop offset="0.7857" stop-color="#cccccc"/><stop offset="0.8571" stop-color="#cacaca"/><stop offset="0.9286" stop-color="#c7c7c7"/><stop offset="1.0000" stop-color="#c5c5c5"/></linearGradient>
<linearGradient id="g80" gradientUnits="userSpaceOnUse" x1="0" y1="1.0" x2="0" y2="704.0"><stop offset="0.0000" stop-color="#d6d6d6"/><stop offset="0.0714" stop-color="#d9d9d9"/><stop offset="0.1429" stop-color="#dadada"/><stop offset="0.2143" stop-color="#d9d9d9"/><stop offset="0.2857" stop-color="#d9d9d9"/><stop offset="0.3571" stop-color="#d8d8d8"/><stop offset="0.4286" stop-color="#d6d6d6"/><stop offset="0.5000" stop-color="#d5d5d5"/><stop offset="0.5714" stop-color="#d3d3d3"/><stop offset="0.6429" stop-color="#d1d1d1"/><stop offset="0.7143" stop-color="#cecece"/><stop offset="0.7857" stop-color="#cccccc"/><stop offset="0.8571" stop-color="#cacaca"/><stop offset="0.9286" stop-color="#c7c7c7"/><stop offset="1.0000" stop-color="#c4c4c4"/></linearGradient>
<linearGradient id="g81" gradientUnits="userSpaceOnUse" x1="0" y1="1.0" x2="0" y2="704.0"><stop offset="0.0000" stop-color="#d5d5d5"/><stop offset="0.0714" stop-color="#d8d8d8"/><stop offset="0.1429" stop-color="#d9d9d9"/><stop offset="0.2143" stop-color="#d9d9d9"/><stop offset="0.2857" stop-color="#d8d8d8"/><stop offset="0.3571" stop-color="#d7d7d7"/><stop offset="0.4286" stop-color="#d6d6d6"/><stop offset="0.5000" stop-color="#d4d4d4"/><stop offset="0.5714" stop-color="#d2d2d2"/><stop offset="0.6429" stop-color="#d0d0d0"/><stop offset="0.7143" stop-color="#cecece"/><stop offset="0.7857" stop-color="#cccccc"/><stop offset="0.8571" stop-color="#c9c9c9"/><stop offset="0.9286" stop-color="#c7c7c7"/><stop offset="1.0000" stop-color="#c4c4c4"/></linearGradient>
<linearGradient id="g82" gradientUnits="userSpaceOnUse" x1="0" y1="1.0" x2="0" y2="704.0"><stop offset="0.0000" stop-color="#d4d4d4"/><stop offset="0.0714" stop-color="#d7d7d7"/><stop offset="0.1429" stop-color="#d8d8d8"/><stop offset="0.2143" stop-color="#d8d8d8"/><stop offset="0.2857" stop-color="#d8d8d8"/><stop offset="0.3571" stop-color="#d7d7d7"/><stop offset="0.4286" stop-color="#d5d5d5"/><stop offset="0.5000" stop-color="#d4d4d4"/><stop offset="0.5714" stop-color="#d2d2d2"/><stop offset="0.6429" stop-color="#d0d0d0"/><stop offset="0.7143" stop-color="#cecece"/><stop offset="0.7857" stop-color="#cbcbcb"/><stop offset="0.8571" stop-color="#c9c9c9"/><stop offset="0.9286" stop-color="#c6c6c6"/><stop offset="1.0000" stop-color="#c4c4c4"/></linearGradient>
<linearGradient id="g83" gradientUnits="userSpaceOnUse" x1="0" y1="1.0" x2="0" y2="704.0"><stop offset="0.0000" stop-color="#d3d3d3"/><stop offset="0.0714" stop-color="#d6d6d6"/><stop offset="0.1429" stop-color="#d8d8d8"/><stop offset="0.2143" stop-color="#d8d8d8"/><stop offset="0.2857" stop-color="#d7d7d7"/><stop offset="0.3571" stop-color="#d6d6d6"/><stop offset="0.4286" stop-color="#d5d5d5"/><stop offset="0.5000" stop-color="#d3d3d3"/><stop offset="0.5714" stop-color="#d1d1d1"/><stop offset="0.6429" stop-color="#cfcfcf"/><stop offset="0.7143" stop-color="#cdcdcd"/><stop offset="0.7857" stop-color="#cbcbcb"/><stop offset="0.8571" stop-color="#c9c9c9"/><stop offset="0.9286" stop-color="#c6c6c6"/><stop offset="1.0000" stop-color="#c4c4c4"/></linearGradient>
<linearGradient id="g84" gradientUnits="userSpaceOnUse" x1="0" y1="1.0" x2="0" y2="704.0"><stop offset="0.0000" stop-color="#d2d2d2"/><stop offset="0.0714" stop-color="#d6d6d6"/><stop offset="0.1429" stop-color="#d7d7d7"/><stop offset="0.2143" stop-color="#d7d7d7"/><stop offset="0.2857" stop-color="#d7d7d7"/><stop offset="0.3571" stop-color="#d6d6d6"/><stop offset="0.4286" stop-color="#d4d4d4"/><stop offset="0.5000" stop-color="#d3d3d3"/><stop offset="0.5714" stop-color="#d1d1d1"/><stop offset="0.6429" stop-color="#cfcfcf"/><stop offset="0.7143" stop-color="#cdcdcd"/><stop offset="0.7857" stop-color="#cbcbcb"/><stop offset="0.8571" stop-color="#c8c8c8"/><stop offset="0.9286" stop-color="#c6c6c6"/><stop offset="1.0000" stop-color="#c3c3c3"/></linearGradient>
<linearGradient id="g85" gradientUnits="userSpaceOnUse" x1="0" y1="1.0" x2="0" y2="704.0"><stop offset="0.0000" stop-color="#d1d1d1"/><stop offset="0.0714" stop-color="#d5d5d5"/><stop offset="0.1429" stop-color="#d6d6d6"/><stop offset="0.2143" stop-color="#d7d7d7"/><stop offset="0.2857" stop-color="#d6d6d6"/><stop offset="0.3571" stop-color="#d5d5d5"/><stop offset="0.4286" stop-color="#d4d4d4"/><stop offset="0.5000" stop-color="#d2d2d2"/><stop offset="0.5714" stop-color="#d1d1d1"/><stop offset="0.6429" stop-color="#cfcfcf"/><stop offset="0.7143" stop-color="#cdcdcd"/><stop offset="0.7857" stop-color="#cacaca"/><stop offset="0.8571" stop-color="#c8c8c8"/><stop offset="0.9286" stop-color="#c6c6c6"/><stop offset="1.0000" stop-color="#c3c3c3"/></linearGradient>
<linearGradient id="g86" gradientUnits="userSpaceOnUse" x1="0" y1="1.0" x2="0" y2="704.0"><stop offset="0.0000" stop-color="#d0d0d0"/><stop offset="0.0714" stop-color="#d4d4d4"/><stop offset="0.1429" stop-color="#d5d5d5"/><stop offset="0.2143" stop-color="#d6d6d6"/><stop offset="0.2857" stop-color="#d6d6d6"/><stop offset="0.3571" stop-color="#d5d5d5"/><stop offset="0.4286" stop-color="#d4d4d4"/><stop offset="0.5000" stop-color="#d2d2d2"/><stop offset="0.5714" stop-color="#d0d0d0"/><stop offset="0.6429" stop-color="#cecece"/><stop offset="0.7143" stop-color="#cccccc"/><stop offset="0.7857" stop-color="#cacaca"/><stop offset="0.8571" stop-color="#c8c8c8"/><stop offset="0.9286" stop-color="#c5c5c5"/><stop offset="1.0000" stop-color="#c3c3c3"/></linearGradient>
<linearGradient id="g87" gradientUnits="userSpaceOnUse" x1="0" y1="1.0" x2="0" y2="704.0"><stop offset="0.0000" stop-color="#cfcfcf"/><stop offset="0.0714" stop-color="#d3d3d3"/><stop offset="0.1429" stop-color="#d5d5d5"/><stop offset="0.2143" stop-color="#d5d5d5"/><stop offset="0.2857" stop-color="#d5d5d5"/><stop offset="0.3571" stop-color="#d4d4d4"/><stop offset="0.4286" stop-color="#d3d3d3"/><stop offset="0.5000" stop-color="#d2d2d2"/><stop offset="0.5714" stop-color="#d0d0d0"/><stop offset="0.6429" stop-color="#cecece"/><stop offset="0.7143" stop-color="#cccccc"/><stop offset="0.7857" stop-color="#cacaca"/><stop offset="0.8571" stop-color="#c7c7c7"/><stop offset="0.9286" stop-color="#c5c5c5"/><stop offset="1.0000" stop-color="#c3c3c3"/></linearGradient>
<linearGradient id="g88" gradientUnits="userSpaceOnUse" x1="0" y1="1.0" x2="0" y2="704.0"><stop offset="0.0000" stop-color="#cecece"/><stop offset="0.0714" stop-color="#d2d2d2"/><stop offset="0.1429" stop-color="#d4d4d4"/><stop offset="0.2143" stop-color="#d5d5d5"/><stop offset="0.2857" stop-color="#d5d5d5"/><stop offset="0.3571" stop-color="#d4d4d4"/><stop offset="0.4286" stop-color="#d3d3d3"/><stop offset="0.5000" stop-color="#d1d1d1"/><stop offset="0.5714" stop-color="#d0d0d0"/><stop offset="0.6429" stop-color="#cecece"/><stop offset="0.7143" stop-color="#cccccc"/><stop offset="0.7857" stop-color="#c9c9c9"/><stop offset="0.8571" stop-color="#c7c7c7"/><stop offset="0.9286" stop-color="#c5c5c5"/><stop offset="1.0000" stop-color="#c2c2c2"/></linearGradient>
<linearGradient id="g89" gradientUnits="userSpaceOnUse" x1="0" y1="1.0" x2="0" y2="704.0"><stop offset="0.0000" stop-color="#cdcdcd"/><stop offset="0.0714" stop-color="#d1d1d1"/><stop offset="0.1429" stop-color="#d3d3d3"/><stop offset="0.2143" stop-color="#d4d4d4"/><stop offset="0.2857" stop-color="#d4d4d4"/><stop offset="0.3571" stop-color="#d3d3d3"/><stop offset="0.4286" stop-color="#d2d2d2"/><stop offset="0.5000" stop-color="#d1d1d1"/><stop offset="0.5714" stop-color="#cfcfcf"/><stop offset="0.6429" stop-color="#cdcdcd"/><stop offset="0.7143" stop-color="#cbcbcb"/><stop offset="0.7857" stop-color="#c9c9c9"/><stop offset="0.8571" stop-color="#c7c7c7"/><stop offset="0.9286" stop-color="#c4c4c4"/><stop offset="1.0000" stop-color="#c2c2c2"/></linearGradient>
<linearGradient id="g90" gradientUnits="userSpaceOnUse" x1="0" y1="1.0" x2="0" y2="704.0"><stop offset="0.0000" stop-color="#cccccc"/><stop offset="0.0714" stop-color="#d0d0d0"/><stop offset="0.1429" stop-color="#d3d3d3"/><stop offset="0.2143" stop-color="#d3d3d3"/><stop offset="0.2857" stop-color="#d3d3d3"/><stop offset="0.3571" stop-color="#d3d3d3"/><stop offset="0.4286" stop-color="#d2d2d2"/><stop offset="0.5000" stop-color="#d0d0d0"/><stop offset="0.5714" stop-color="#cfcfcf"/><stop offset="0.6429" stop-color="#cdcdcd"/><stop offset="0.7143" stop-color="#cbcbcb"/><stop offset="0.7857" stop-color="#c9c9c9"/><stop offset="0.8571" stop-color="#c6c6c6"/><stop offset="0.9286" stop-color="#c4c4c4"/><stop offset="1.0000" stop-color="#c2c2c2"/></linearGradient>
<linearGradient id="g91" gradientUnits="userSpaceOnUse" x1="0" y1="1.0" x2="0" y2="704.0"><stop offset="0.0000" stop-color="#cbcbcb"/><stop offset="0.0714" stop-color="#cfcfcf"/><stop offset="0.1429" stop-color="#d2d2d2"/><stop offset="0.2143" stop-color="#d3d3d3"/><stop offset="0.2857" stop-color="#d3d3d3"/><stop offset="0.3571" stop-color="#d2d2d2"/><stop offset="0.4286" stop-color="#d1d1d1"/><stop offset="0.5000" stop-color="#d0d0d0"/><stop offset="0.5714" stop-color="#cecece"/><stop offset="0.6429" stop-color="#cdcdcd"/><stop offset="0.7143" stop-color="#cbcbcb"/><stop offset="0.7857" stop-color="#c8c8c8"/><stop offset="0.8571" stop-color="#c6c6c6"/><stop offset="0.9286" stop-color="#c4c4c4"/><stop offset="1.0000" stop-color="#c1c1c1"/></linearGradient>
<linearGradient id="g92" gradientUnits="userSpaceOnUse" x1="0" y1="1.0" x2="0" y2="704.0"><stop offset="0.0000" stop-color="#c9c9c9"/><stop offset="0.0714" stop-color="#cfcfcf"/><stop offset="0.1429" stop-color="#d1d1d1"/><stop offset="0.2143" stop-color="#d2d2d2"/><stop offset="0.2857" stop-color="#d2d2d2"/><stop offset="0.3571" stop-color="#d2d2d2"/><stop offset="0.4286" stop-color="#d1d1d1"/><stop offset="0.5000" stop-color="#cfcfcf"/><stop offset="0.5714" stop-color="#cecece"/><stop offset="0.6429" stop-color="#cccccc"/><stop offset="0.7143" stop-color="#cacaca"/><stop offset="0.7857" stop-color="#c8c8c8"/><stop offset="0.8571" stop-color="#c6c6c6"/><stop offset="0.9286" stop-color="#c4c4c4"/><stop offset="1.0000" stop-color="#c1c1c1"/></linearGradient>
<linearGradient id="g93" gradientUnits="userSpaceOnUse" x1="0" y1="1.0" x2="0" y2="704.0"><stop offset="0.0000" stop-color="#c8c8c8"/><stop offset="0.0714" stop-color="#cecece"/><stop offset="0.1429" stop-color="#d0d0d0"/><stop offset="0.2143" stop-color="#d1d1d1"/><stop offset="0.2857" stop-color="#d2d2d2"/><stop offset="0.3571" stop-color="#d1d1d1"/><stop offset="0.4286" stop-color="#d0d0d0"/><stop offset="0.5000" stop-color="#cfcfcf"/><stop offset="0.5714" stop-color="#cdcdcd"/><stop offset="0.6429" stop-color="#cccccc"/><stop offset="0.7143" stop-color="#cacaca"/><stop offset="0.7857" stop-color="#c8c8c8"/><stop offset="0.8571" stop-color="#c6c6c6"/><stop offset="0.9286" stop-color="#c3c3c3"/><stop offset="1.0000" stop-color="#c1c1c1"/></linearGradient>
<linearGradient id="g94" gradientUnits="userSpaceOnUse" x1="0" y1="1.0" x2="0" y2="704.0"><stop offset="0.0000" stop-color="#c7c7c7"/><stop offset="0.0714" stop-color="#cdcdcd"/><stop offset="0.1429" stop-color="#cfcfcf"/><stop offset="0.2143" stop-color="#d1d1d1"/><stop offset="0.2857" stop-color="#d1d1d1"/><stop offset="0.3571" stop-color="#d1d1d1"/><stop offset="0.4286" stop-color="#d0d0d0"/><stop offset="0.5000" stop-color="#cfcfcf"/><stop offset="0.5714" stop-color="#cdcdcd"/><stop offset="0.6429" stop-color="#cbcbcb"/><stop offset="0.7143" stop-color="#c9c9c9"/><stop offset="0.7857" stop-color="#c7c7c7"/><stop offset="0.8571" stop-color="#c5c5c5"/><stop offset="0.9286" stop-color="#c3c3c3"/><stop offset="1.0000" stop-color="#c1c1c1"/></linearGradient>
<linearGradient id="g95" gradientUnits="userSpaceOnUse" x1="0" y1="1.0" x2="0" y2="704.0"><stop offset="0.0000" stop-color="#c5c5c5"/><stop offset="0.0714" stop-color="#cccccc"/><stop offset="0.1429" stop-color="#cfcfcf"/><stop offset="0.2143" stop-color="#d0d0d0"/><stop offset="0.2857" stop-color="#d0d0d0"/><stop offset="0.3571" stop-color="#d0d0d0"/><stop offset="0.4286" stop-color="#cfcfcf"/><stop offset="0.5000" stop-color="#cecece"/><stop offset="0.5714" stop-color="#cdcdcd"/><stop offset="0.6429" stop-color="#cbcbcb"/><stop offset="0.7143" stop-color="#c9c9c9"/><stop offset="0.7857" stop-color="#c7c7c7"/><stop offset="0.8571" stop-color="#c5c5c5"/><stop offset="0.9286" stop-color="#c3c3c3"/><stop offset="1.0000" stop-color="#c0c0c0"/></linearGradient>
<linearGradient id="g96" gradientUnits="userSpaceOnUse" x1="0" y1="1.0" x2="0" y2="704.0"><stop offset="0.0000" stop-color="#c4c4c4"/><stop offset="0.0714" stop-color="#cbcbcb"/><stop offset="0.1429" stop-color="#cecece"/><stop offset="0.2143" stop-color="#cfcfcf"/><stop offset="0.2857" stop-color="#d0d0d0"/><stop offset="0.3571" stop-color="#d0d0d0"/><stop offset="0.4286" stop-color="#cfcfcf"/><stop offset="0.5000" stop-color="#cecece"/><stop offset="0.5714" stop-color="#cccccc"/><stop offset="0.6429" stop-color="#cbcbcb"/><stop offset="0.7143" stop-color="#c9c9c9"/><stop offset="0.7857" stop-color="#c7c7c7"/><stop offset="0.8571" stop-color="#c5c5c5"/><stop offset="0.9286" stop-color="#c2c2c2"/><stop offset="1.0000" stop-color="#c0c0c0"/></linearGradient>
<linearGradient id="g97" gradientUnits="userSpaceOnUse" x1="0" y1="1.0" x2="0" y2="704.0"><stop offset="0.0000" stop-color="#c2c2c2"/><stop offset="0.0714" stop-color="#cacaca"/><stop offset="0.1429" stop-color="#cdcdcd"/><stop offset="0.2143" stop-color="#cfcfcf"/><stop offset="0.2857" stop-color="#cfcfcf"/><stop offset="0.3571" stop-color="#cfcfcf"/><stop offset="0.4286" stop-color="#cecece"/><stop offset="0.5000" stop-color="#cdcdcd"/><stop offset="0.5714" stop-color="#cccccc"/><stop offset="0.6429" stop-color="#cacaca"/><stop offset="0.7143" stop-color="#c8c8c8"/><stop offset="0.7857" stop-color="#c6c6c6"/><stop offset="0.8571" stop-color="#c4c4c4"/><stop offset="0.9286" stop-color="#c2c2c2"/><stop offset="1.0000" stop-color="#c0c0c0"/></linearGradient>
<linearGradient id="g98" gradientUnits="userSpaceOnUse" x1="0" y1="1.0" x2="0" y2="704.0"><stop offset="0.0000" stop-color="#c1c1c1"/><stop offset="0.0714" stop-color="#c8c8c8"/><stop offset="0.1429" stop-color="#cccccc"/><stop offset="0.2143" stop-color="#cecece"/><stop offset="0.2857" stop-color="#cfcfcf"/><stop offset="0.3571" stop-color="#cecece"/><stop offset="0.4286" stop-color="#cecece"/><stop offset="0.5000" stop-color="#cdcdcd"/><stop offset="0.5714" stop-color="#cbcbcb"/><stop offset="0.6429" stop-color="#cacaca"/><stop offset="0.7143" stop-color="#c8c8c8"/><stop offset="0.7857" stop-color="#c6c6c6"/><stop offset="0.8571" stop-color="#c4c4c4"/><stop offset="0.9286" stop-color="#c2c2c2"/><stop offset="1.0000" stop-color="#bfbfbf"/></linearGradient>
<linearGradient id="g99" gradientUnits="userSpaceOnUse" x1="0" y1="1.0" x2="0" y2="704.0"><stop offset="0.0000" stop-color="#bfbfbf"/><stop offset="0.0714" stop-color="#c8c8c8"/><stop offset="0.1429" stop-color="#cbcbcb"/><stop offset="0.2143" stop-color="#cdcdcd"/><stop offset="0.2857" stop-color="#cecece"/><stop offset="0.3571" stop-color="#cecece"/><stop offset="0.4286" stop-color="#cdcdcd"/><stop offset="0.5000" stop-color="#cccccc"/><stop offset="0.5714" stop-color="#cbcbcb"/><stop offset="0.6429" stop-color="#c9c9c9"/><stop offset="0.7143" stop-color="#c8c8c8"/><stop offset="0.7857" stop-color="#c6c6c6"/><stop offset="0.8571" stop-color="#c4c4c4"/><stop offset="0.9286" stop-color="#c1c1c1"/><stop offset="1.0000" stop-color="#bfbfbf"/></linearGradient>
</defs>
<g shape-rendering="crispEdges">
<rect x="581" y="1" width="8" height="703" fill="url(#g0)"/><rect x="589" y="1" width="8" height="703" fill="url(#g0)"/>
<rect x="573" y="1" width="8" height="703" fill="url(#g1)"/><rect x="597" y="1" width="8" height="703" fill="url(#g1)"/>
<rect x="565" y="1" width="8" height="703" fill="url(#g2)"/><rect x="605" y="1" width="8" height="703" fill="url(#g2)"/>
<rect x="557" y="1" width="8" height="703" fill="url(#g3)"/><rect x="613" y="1" width="8" height="703" fill="url(#g3)"/>
<rect x="549" y="1" width="8" height="703" fill="url(#g4)"/><rect x="621" y="1" width="8" height="703" fill="url(#g4)"/>
<rect x="541" y="1" width="8" height="703" fill="url(#g5)"/><rect x="629" y="1" width="8" height="703" fill="url(#g5)"/>
<rect x="533" y="1" width="8" height="703" fill="url(#g6)"/><rect x="637" y="1" width="8" height="703" fill="url(#g6)"/>
<rect x="525" y="1" width="8" height="703" fill="url(#g7)"/><rect x="645" y="1" width="8" height="703" fill="url(#g7)"/>
<rect x="517" y="1" width="8" height="703" fill="url(#g8)"/><rect x="653" y="1" width="8" height="703" fill="url(#g8)"/>
<rect x="509" y="1" width="8" height="703" fill="url(#g9)"/><rect x="661" y="1" width="8" height="703" fill="url(#g9)"/>
<rect x="501" y="1" width="8" height="703" fill="url(#g10)"/><rect x="669" y="1" width="8" height="703" fill="url(#g10)"/>
<rect x="493" y="1" width="8" height="703" fill="url(#g11)"/><rect x="677" y="1" width="8" height="703" fill="url(#g11)"/>
<rect x="485" y="1" width="8" height="703" fill="url(#g12)"/><rect x="685" y="1" width="8" height="703" fill="url(#g12)"/>
<rect x="477" y="1" width="8" height="703" fill="url(#g13)"/><rect x="693" y="1" width="8" height="703" fill="url(#g13)"/>
<rect x="469" y="1" width="8" height="703" fill="url(#g14)"/><rect x="701" y="1" width="8" height="703" fill="url(#g14)"/>
<rect x="461" y="1" width="8" height="703" fill="url(#g15)"/><rect x="709" y="1" width="8" height="703" fill="url(#g15)"/>
<rect x="453" y="1" width="8" height="703" fill="url(#g16)"/><rect x="717" y="1" width="8" height="703" fill="url(#g16)"/>
<rect x="445" y="1" width="8" height="703" fill="url(#g17)"/><rect x="725" y="1" width="8" height="703" fill="url(#g17)"/>
<rect x="437" y="1" width="8" height="703" fill="url(#g18)"/><rect x="733" y="1" width="8" height="703" fill="url(#g18)"/>
<rect x="429" y="1" width="8" height="703" fill="url(#g19)"/><rect x="741" y="1" width="8" height="703" fill="url(#g19)"/>
<rect x="421" y="1" width="8" height="703" fill="url(#g20)"/><rect x="749" y="1" width="8" height="703" fill="url(#g20)"/>
<rect x="413" y="1" width="8" height="703" fill="url(#g21)"/><rect x="757" y="1" width="8" height="703" fill="url(#g21)"/>
<rect x="405" y="1" width="8" height="703" fill="url(#g22)"/><rect x="765" y="1" width="8" height="703" fill="url(#g22)"/>
<rect x="397" y="1" width="8" height="703" fill="url(#g23)"/><rect x="773" y="1" width="8" height="703" fill="url(#g23)"/>
<rect x="389" y="1" width="8" height="703" fill="url(#g24)"/><rect x="781" y="1" width="8" height="703" fill="url(#g24)"/>
<rect x="381" y="1" width="8" height="703" fill="url(#g25)"/><rect x="789" y="1" width="8" height="703" fill="url(#g25)"/>
<rect x="373" y="1" width="8" height="703" fill="url(#g26)"/><rect x="797" y="1" width="8" height="703" fill="url(#g26)"/>
<rect x="365" y="1" width="8" height="703" fill="url(#g27)"/><rect x="805" y="1" width="8" height="703" fill="url(#g27)"/>
<rect x="357" y="1" width="8" height="703" fill="url(#g28)"/><rect x="813" y="1" width="8" height="703" fill="url(#g28)"/>
<rect x="349" y="1" width="8" height="703" fill="url(#g29)"/><rect x="821" y="1" width="8" height="703" fill="url(#g29)"/>
<rect x="341" y="1" width="8" height="703" fill="url(#g30)"/><rect x="829" y="1" width="8" height="703" fill="url(#g30)"/>
<rect x="333" y="1" width="8" height="703" fill="url(#g31)"/><rect x="837" y="1" width="8" height="703" fill="url(#g31)"/>
<rect x="325" y="1" width="8" height="703" fill="url(#g32)"/><rect x="845" y="1" width="8" height="703" fill="url(#g32)"/>
<rect x="317" y="1" width="8" height="703" fill="url(#g33)"/><rect x="853" y="1" width="8" height="703" fill="url(#g33)"/>
<rect x="309" y="1" width="8" height="703" fill="url(#g34)"/><rect x="861" y="1" width="8" height="703" fill="url(#g34)"/>
<rect x="301" y="1" width="8" height="703" fill="url(#g35)"/><rect x="869" y="1" width="8" height="703" fill="url(#g35)"/>
<rect x="293" y="1" width="8" height="703" fill="url(#g36)"/><rect x="877" y="1" width="8" height="703" fill="url(#g36)"/>
<rect x="285" y="1" width="8" height="703" fill="url(#g37)"/><rect x="885" y="1" width="8" height="703" fill="url(#g37)"/>
<rect x="277" y="1" width="8" height="703" fill="url(#g38)"/><rect x="893" y="1" width="8" height="703" fill="url(#g38)"/>
<rect x="269" y="1" width="8" height="703" fill="url(#g39)"/><rect x="901" y="1" width="8" height="703" fill="url(#g39)"/>
<rect x="261" y="1" width="8" height="703" fill="url(#g40)"/><rect x="909" y="1" width="8" height="703" fill="url(#g40)"/>
<rect x="253" y="1" width="8" height="703" fill="url(#g41)"/><rect x="917" y="1" width="8" height="703" fill="url(#g41)"/>
<rect x="245" y="1" width="8" height="703" fill="url(#g42)"/><rect x="925" y="1" width="8" height="703" fill="url(#g42)"/>
<rect x="237" y="1" width="8" height="703" fill="url(#g43)"/><rect x="933" y="1" width="8" height="703" fill="url(#g43)"/>
<rect x="229" y="1" width="8" height="703" fill="url(#g44)"/><rect x="941" y="1" width="8" height="703" fill="url(#g44)"/>
<rect x="221" y="1" width="8" height="703" fill="url(#g45)"/><rect x="949" y="1" width="8" height="703" fill="url(#g45)"/>
<rect x="213" y="1" width="8" height="703" fill="url(#g46)"/><rect x="957" y="1" width="8" height="703" fill="url(#g46)"/>
<rect x="209" y="1" width="4" height="703" fill="url(#g47)"/><rect x="965" y="1" width="4" height="703" fill="url(#g47)"/>
<rect x="205" y="1" width="4" height="703" fill="url(#g48)"/><rect x="969" y="1" width="4" height="703" fill="url(#g48)"/>
<rect x="201" y="1" width="4" height="703" fill="url(#g49)"/><rect x="973" y="1" width="4" height="703" fill="url(#g49)"/>
<rect x="197" y="1" width="4" height="703" fill="url(#g50)"/><rect x="977" y="1" width="4" height="703" fill="url(#g50)"/>
<rect x="193" y="1" width="4" height="703" fill="url(#g51)"/><rect x="981" y="1" width="4" height="703" fill="url(#g51)"/>
<rect x="189" y="1" width="4" height="703" fill="url(#g52)"/><rect x="985" y="1" width="4" height="703" fill="url(#g52)"/>
<rect x="185" y="1" width="4" height="703" fill="url(#g53)"/><rect x="989" y="1" width="4" height="703" fill="url(#g53)"/>
<rect x="181" y="1" width="4" height="703" fill="url(#g54)"/><rect x="993" y="1" width="4" height="703" fill="url(#g54)"/>
<rect x="177" y="1" width="4" height="703" fill="url(#g55)"/><rect x="997" y="1" width="4" height="703" fill="url(#g55)"/>
<rect x="173" y="1" width="4" height="703" fill="url(#g56)"/><rect x="1001" y="1" width="4" height="703" fill="url(#g56)"/>
<rect x="169" y="1" width="4" height="703" fill="url(#g57)"/><rect x="1005" y="1" width="4" height="703" fill="url(#g57)"/>
<rect x="165" y="1" width="4" height="703" fill="url(#g58)"/><rect x="1009" y="1" width="4" height="703" fill="url(#g58)"/>
<rect x="161" y="1" width="4" height="703" fill="url(#g59)"/><rect x="1013" y="1" width="4" height="703" fill="url(#g59)"/>
<rect x="157" y="1" width="4" height="703" fill="url(#g60)"/><rect x="1017" y="1" width="4" height="703" fill="url(#g60)"/>
<rect x="153" y="1" width="4" height="703" fill="url(#g61)"/><rect x="1021" y="1" width="4" height="703" fill="url(#g61)"/>
<rect x="149" y="1" width="4" height="703" fill="url(#g62)"/><rect x="1025" y="1" width="4" height="703" fill="url(#g62)"/>
<rect x="145" y="1" width="4" height="703" fill="url(#g63)"/><rect x="1029" y="1" width="4" height="703" fill="url(#g63)"/>
<rect x="141" y="1" width="4" height="703" fill="url(#g64)"/><rect x="1033" y="1" width="4" height="703" fill="url(#g64)"/>
<rect x="137" y="1" width="4" height="703" fill="url(#g65)"/><rect x="1037" y="1" width="4" height="703" fill="url(#g65)"/>
<rect x="133" y="1" width="4" height="703" fill="url(#g66)"/><rect x="1041" y="1" width="4" height="703" fill="url(#g66)"/>
<rect x="129" y="1" width="4" height="703" fill="url(#g67)"/><rect x="1045" y="1" width="4" height="703" fill="url(#g67)"/>
<rect x="125" y="1" width="4" height="703" fill="url(#g68)"/><rect x="1049" y="1" width="4" height="703" fill="url(#g68)"/>
<rect x="121" y="1" width="4" height="703" fill="url(#g69)"/><rect x="1053" y="1" width="4" height="703" fill="url(#g69)"/>
<rect x="117" y="1" width="4" height="703" fill="url(#g70)"/><rect x="1057" y="1" width="4" height="703" fill="url(#g70)"/>
<rect x="113" y="1" width="4" height="703" fill="url(#g71)"/><rect x="1061" y="1" width="4" height="703" fill="url(#g71)"/>
<rect x="109" y="1" width="4" height="703" fill="url(#g72)"/><rect x="1065" y="1" width="4" height="703" fill="url(#g72)"/>
<rect x="105" y="1" width="4" height="703" fill="url(#g73)"/><rect x="1069" y="1" width="4" height="703" fill="url(#g73)"/>
<rect x="101" y="1" width="4" height="703" fill="url(#g74)"/><rect x="1073" y="1" width="4" height="703" fill="url(#g74)"/>
<rect x="97" y="1" width="4" height="703" fill="url(#g75)"/><rect x="1077" y="1" width="4" height="703" fill="url(#g75)"/>
<rect x="93" y="1" width="4" height="703" fill="url(#g76)"/><rect x="1081" y="1" width="4" height="703" fill="url(#g76)"/>
<rect x="89" y="1" width="4" height="703" fill="url(#g77)"/><rect x="1085" y="1" width="4" height="703" fill="url(#g77)"/>
<rect x="85" y="1" width="4" height="703" fill="url(#g78)"/><rect x="1089" y="1" width="4" height="703" fill="url(#g78)"/>
<rect x="81" y="1" width="4" height="703" fill="url(#g79)"/><rect x="1093" y="1" width="4" height="703" fill="url(#g79)"/>
<rect x="77" y="1" width="4" height="703" fill="url(#g80)"/><rect x="1097" y="1" width="4" height="703" fill="url(#g80)"/>
<rect x="73" y="1" width="4" height="703" fill="url(#g81)"/><rect x="1101" y="1" width="4" height="703" fill="url(#g81)"/>
<rect x="69" y="1" width="4" height="703" fill="url(#g82)"/><rect x="1105" y="1" width="4" height="703" fill="url(#g82)"/>
<rect x="65" y="1" width="4" height="703" fill="url(#g83)"/><rect x="1109" y="1" width="4" height="703" fill="url(#g83)"/>
<rect x="61" y="1" width="4" height="703" fill="url(#g84)"/><rect x="1113" y="1" width="4" height="703" fill="url(#g84)"/>
<rect x="57" y="1" width="4" height="703" fill="url(#g85)"/><rect x="1117" y="1" width="4" height="703" fill="url(#g85)"/>
<rect x="53" y="1" width="4" height="703" fill="url(#g86)"/><rect x="1121" y="1" width="4" height="703" fill="url(#g86)"/>
<rect x="49" y="1" width="4" height="703" fill="url(#g87)"/><rect x="1125" y="1" width="4" height="703" fill="url(#g87)"/>
<rect x="45" y="1" width="4" height="703" fill="url(#g88)"/><rect x="1129" y="1" width="4" height="703" fill="url(#g88)"/>
<rect x="41" y="1" width="4" height="703" fill="url(#g89)"/><rect x="1133" y="1" width="4" height="703" fill="url(#g89)"/>
<rect x="37" y="1" width="4" height="703" fill="url(#g90)"/><rect x="1137" y="1" width="4" height="703" fill="url(#g90)"/>
<rect x="33" y="1" width="4" height="703" fill="url(#g91)"/><rect x="1141" y="1" width="4" height="703" fill="url(#g91)"/>
<rect x="29" y="1" width="4" height="703" fill="url(#g92)"/><rect x="1145" y="1" width="4" height="703" fill="url(#g92)"/>
<rect x="25" y="1" width="4" height="703" fill="url(#g93)"/><rect x="1149" y="1" width="4" height="703" fill="url(#g93)"/>
<rect x="21" y="1" width="4" height="703" fill="url(#g94)"/><rect x="1153" y="1" width="4" height="703" fill="url(#g94)"/>
<rect x="17" y="1" width="4" height="703" fill="url(#g95)"/><rect x="1157" y="1" width="4" height="703" fill="url(#g95)"/>
<rect x="13" y="1" width="4" height="703" fill="url(#g96)"/><rect x="1161" y="1" width="4" height="703" fill="url(#g96)"/>
<rect x="9" y="1" width="4" height="703" fill="url(#g97)"/><rect x="1165" y="1" width="4" height="703" fill="url(#g97)"/>
<rect x="5" y="1" width="4" height="703" fill="url(#g98)"/><rect x="1169" y="1" width="4" height="703" fill="url(#g98)"/>
<rect x="3" y="1" width="2" height="703" fill="url(#g99)"/><rect x="1173" y="1" width="2" height="703" fill="url(#g99)"/>
</g>
<rect x="3.5" y="1.5" width="1171" height="702" fill="none" stroke="#bfbfbf" stroke-width="1.4"/>
<text x="168.12" y="80.6" font-size="53.5" font-weight="bold" fill="#404040" textLength="220.39" lengthAdjust="spacingAndGlyphs">Expected</text>
<text x="402.32" y="80.6" font-size="53.5" font-weight="bold" fill="#404040" textLength="298.56" lengthAdjust="spacingAndGlyphs">Redemption</text>
<text x="714.92" y="80.6" font-size="53.5" font-weight="bold" fill="#404040" textLength="210.29" lengthAdjust="spacingAndGlyphs">Payment</text>
<text x="940.98" y="80.6" font-size="53.5" font-weight="bold" fill="#404040" textLength="69.24" lengthAdjust="spacingAndGlyphs">for</text>
<text x="155.89" y="151.9" font-size="53.5" font-weight="bold" fill="#404040" textLength="78.53" lengthAdjust="spacingAndGlyphs">SM</text>
<text x="247.64" y="151.9" font-size="53.5" font-weight="bold" fill="#404040" textLength="126.17" lengthAdjust="spacingAndGlyphs">Bond</text>
<text x="389.0" y="151.9" font-size="53.5" font-weight="bold" fill="#404040" textLength="188.23" lengthAdjust="spacingAndGlyphs">w/$100</text>
<text x="589.48" y="151.9" font-size="53.5" font-weight="bold" fill="#404040" textLength="106.39" lengthAdjust="spacingAndGlyphs">Face</text>
<text x="708.58" y="151.9" font-size="53.5" font-weight="bold" fill="#404040" textLength="154.84" lengthAdjust="spacingAndGlyphs">Value:</text>
<text x="877.88" y="151.9" font-size="53.5" font-weight="bold" fill="#404040" textLength="145.02" lengthAdjust="spacingAndGlyphs">Males</text>
<line x1="96.2" y1="208.70" x2="1138.9" y2="208.70" stroke="#d8d8d8" stroke-width="2"/>
<text x="70" y="217.0" font-size="25" fill="#404040" stroke="#404040" stroke-width="0.3" text-anchor="end" textLength="44.6" lengthAdjust="spacingAndGlyphs">220</text>
<line x1="96.2" y1="285.80" x2="1138.9" y2="285.80" stroke="#cecece" stroke-width="2"/>
<text x="70" y="294.1" font-size="25" fill="#404040" stroke="#404040" stroke-width="0.3" text-anchor="end" textLength="44.6" lengthAdjust="spacingAndGlyphs">170</text>
<line x1="96.2" y1="361.90" x2="1138.9" y2="361.90" stroke="#c4c4c4" stroke-width="2"/>
<text x="70" y="370.2" font-size="25" fill="#404040" stroke="#404040" stroke-width="0.3" text-anchor="end" textLength="44.6" lengthAdjust="spacingAndGlyphs">120</text>
<line x1="96.2" y1="438.90" x2="1138.9" y2="438.90" stroke="#afafaf" stroke-width="2"/>
<text x="70" y="447.2" font-size="25" fill="#404040" stroke="#404040" stroke-width="0.3" text-anchor="end" textLength="30.2" lengthAdjust="spacingAndGlyphs">70</text>
<line x1="96.2" y1="515.90" x2="1138.9" y2="515.90" stroke="#989898" stroke-width="2"/>
<text x="70" y="524.2" font-size="25" fill="#404040" stroke="#404040" stroke-width="0.3" text-anchor="end" textLength="30.2" lengthAdjust="spacingAndGlyphs">20</text>
<line x1="96.2" y1="592.85" x2="1138.9" y2="592.85" stroke="#727272" stroke-width="2"/>
<text x="70" y="601.1" font-size="25" fill="#404040" stroke="#404040" stroke-width="0.3" text-anchor="end" textLength="38.0" lengthAdjust="spacingAndGlyphs">-30</text>
<text x="106.0" y="593.2" font-size="25" fill="#404040" stroke="#404040" stroke-width="0.3" textLength="30.0" lengthAdjust="spacingAndGlyphs">80</text>
<text x="155.7" y="593.2" font-size="25" fill="#404040" stroke="#404040" stroke-width="0.3" textLength="30.0" lengthAdjust="spacingAndGlyphs">81</text>
<text x="205.3" y="593.2" font-size="25" fill="#404040" stroke="#404040" stroke-width="0.3" textLength="30.0" lengthAdjust="spacingAndGlyphs">82</text>
<text x="255.0" y="593.2" font-size="25" fill="#404040" stroke="#404040" stroke-width="0.3" textLength="30.0" lengthAdjust="spacingAndGlyphs">83</text>
<text x="304.6" y="593.2" font-size="25" fill="#404040" stroke="#404040" stroke-width="0.3" textLength="30.0" lengthAdjust="spacingAndGlyphs">84</text>
<text x="354.3" y="593.2" font-size="25" fill="#404040" stroke="#404040" stroke-width="0.3" textLength="30.0" lengthAdjust="spacingAndGlyphs">85</text>
<text x="403.9" y="593.2" font-size="25" fill="#404040" stroke="#404040" stroke-width="0.3" textLength="30.0" lengthAdjust="spacingAndGlyphs">86</text>
<text x="453.6" y="593.2" font-size="25" fill="#404040" stroke="#404040" stroke-width="0.3" textLength="30.0" lengthAdjust="spacingAndGlyphs">87</text>
<text x="503.2" y="593.2" font-size="25" fill="#404040" stroke="#404040" stroke-width="0.3" textLength="30.0" lengthAdjust="spacingAndGlyphs">88</text>
<text x="552.9" y="593.2" font-size="25" fill="#404040" stroke="#404040" stroke-width="0.3" textLength="30.0" lengthAdjust="spacingAndGlyphs">89</text>
<text x="602.6" y="593.2" font-size="25" fill="#404040" stroke="#404040" stroke-width="0.3" textLength="30.0" lengthAdjust="spacingAndGlyphs">90</text>
<text x="652.2" y="593.2" font-size="25" fill="#404040" stroke="#404040" stroke-width="0.3" textLength="30.0" lengthAdjust="spacingAndGlyphs">91</text>
<text x="701.9" y="593.2" font-size="25" fill="#404040" stroke="#404040" stroke-width="0.3" textLength="30.0" lengthAdjust="spacingAndGlyphs">92</text>
<text x="751.5" y="593.2" font-size="25" fill="#404040" stroke="#404040" stroke-width="0.3" textLength="30.0" lengthAdjust="spacingAndGlyphs">93</text>
<text x="801.2" y="593.2" font-size="25" fill="#404040" stroke="#404040" stroke-width="0.3" textLength="30.0" lengthAdjust="spacingAndGlyphs">94</text>
<text x="850.8" y="593.2" font-size="25" fill="#404040" stroke="#404040" stroke-width="0.3" textLength="30.0" lengthAdjust="spacingAndGlyphs">95</text>
<text x="900.5" y="593.2" font-size="25" fill="#404040" stroke="#404040" stroke-width="0.3" textLength="30.0" lengthAdjust="spacingAndGlyphs">96</text>
<text x="950.1" y="593.2" font-size="25" fill="#404040" stroke="#404040" stroke-width="0.3" textLength="30.0" lengthAdjust="spacingAndGlyphs">97</text>
<text x="999.8" y="593.2" font-size="25" fill="#404040" stroke="#404040" stroke-width="0.3" textLength="30.0" lengthAdjust="spacingAndGlyphs">98</text>
<text x="1049.4" y="593.2" font-size="25" fill="#404040" stroke="#404040" stroke-width="0.3" textLength="30.0" lengthAdjust="spacingAndGlyphs">99</text>
<text x="1092.5" y="593.2" font-size="25" fill="#404040" stroke="#404040" stroke-width="0.3" textLength="43.2" lengthAdjust="spacingAndGlyphs">100</text>
<path d="M122.4,336.5 L171.9,330.7 L221.4,325.6 L270.9,320.6 L320.4,314.9 L369.9,308.3 L419.5,302.1 L469.0,295.8 L518.5,289.5 L568.0,283.1 L617.5,277.1 L667.0,271.2 L716.5,265.2 L766.0,260.3 L815.5,256.2 L865.0,252.5 L914.6,249.1 L964.1,246.5 L1013.6,244.7 L1063.1,243.0 L1112.6,241.9" fill="none" stroke="#447bbf" stroke-width="8.2" stroke-linecap="round" stroke-linejoin="round"/>
<path d="M122.4,490.2 L171.9,484.4 L221.4,479.3 L270.9,474.2 L320.4,468.5 L369.9,461.9 L419.5,455.8 L469.0,449.5 L518.5,443.2 L568.0,436.7 L617.5,430.7 L667.0,424.8 L716.5,418.8 L766.0,414.0 L815.5,409.8 L865.0,406.2 L914.6,402.8 L964.1,400.2 L1013.6,398.3 L1063.1,396.6 L1112.6,395.6" fill="none" stroke="#c0504d" stroke-width="8.2" stroke-linecap="round" stroke-linejoin="round"/>
<path d="M122.4,392.9 L171.9,392.9 L221.4,392.9 L270.9,392.9 L320.4,392.9 L369.9,392.9 L419.5,392.9 L469.0,392.9 L518.5,392.9 L568.0,392.9 L617.5,392.9 L667.0,392.9 L716.5,392.9 L766.0,392.9 L815.5,392.9 L865.0,392.9 L914.6,392.9 L964.1,392.9 L1013.6,392.9 L1063.1,392.9 L1112.6,392.9" fill="none" stroke="#9bbb59" stroke-width="8.2" stroke-linecap="round" stroke-linejoin="round"/>
<line x1="96.2" y1="546.5" x2="1138.9" y2="546.5" stroke="#404040" stroke-width="5"/>
<rect x="62" y="629" width="1053" height="54" fill="#f2f2f2" fill-opacity="0.39"/>
<line x1="104.8" y1="656" x2="165.8" y2="656" stroke="#447bbf" stroke-width="8" stroke-linecap="round"/>
<line x1="322.3" y1="656" x2="384.6" y2="656" stroke="#c0504d" stroke-width="8" stroke-linecap="round"/>
<line x1="790.7" y1="656" x2="852.8" y2="656" stroke="#9bbb59" stroke-width="8" stroke-linecap="round"/>
<text x="172.17" y="665" font-size="24.5" fill="#404040" textLength="110.45" lengthAdjust="spacingAndGlyphs">Survivors</text>
<text x="391.31" y="665" font-size="24.5" fill="#404040" textLength="85.13" lengthAdjust="spacingAndGlyphs">Estates</text>
<text x="482.48" y="665" font-size="24.5" fill="#404040" textLength="24.38" lengthAdjust="spacingAndGlyphs">of</text>
<text x="514.13" y="665" font-size="24.5" fill="#404040" textLength="114.95" lengthAdjust="spacingAndGlyphs">Deceased</text>
<text x="634.92" y="665" font-size="24.5" fill="#404040" textLength="114.91" lengthAdjust="spacingAndGlyphs">Members</text>
<text x="859.17" y="665" font-size="24.5" fill="#404040" textLength="157.86" lengthAdjust="spacingAndGlyphs">Conventional</text>
<text x="1023.7" y="665" font-size="24.5" fill="#404040" textLength="62.4" lengthAdjust="spacingAndGlyphs">Bond</text>
<rect x="9.3" y="712" width="1.2" height="36" fill="#000"/>
<text x="9.7" y="739.1" font-size="31.5" fill="#000000" stroke="#000000" stroke-width="0.25" textLength="1048.2" lengthAdjust="spacingAndGlyphs">Source: Australian Government Actuary (assumes consistent purchases)</text>
</svg>
</body></html>
